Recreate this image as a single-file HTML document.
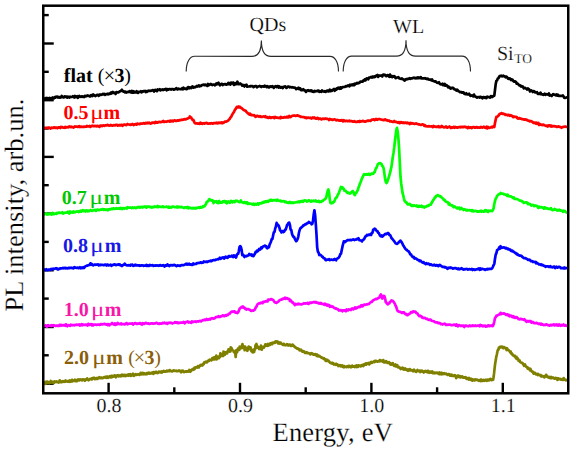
<!DOCTYPE html>
<html><head><meta charset="utf-8"><style>
html,body{margin:0;padding:0;background:#fff;}
body{width:574px;height:453px;overflow:hidden;}
svg{display:block;}
text{font-family:"Liberation Serif",serif;text-rendering:geometricPrecision;}
</style></head><body>
<svg width="574" height="453" viewBox="0 0 574 453">
<g stroke="#000" stroke-width="2.4">
<line x1="108.6" y1="393.3" x2="108.6" y2="382.8"/>
<line x1="174.3" y1="393.3" x2="174.3" y2="387.3"/>
<line x1="240.0" y1="393.3" x2="240.0" y2="382.8"/>
<line x1="305.7" y1="393.3" x2="305.7" y2="387.3"/>
<line x1="371.4" y1="393.3" x2="371.4" y2="382.8"/>
<line x1="437.1" y1="393.3" x2="437.1" y2="387.3"/>
<line x1="502.8" y1="393.3" x2="502.8" y2="382.8"/>
<line x1="43.25" y1="43.5" x2="53.75" y2="43.5"/>
<line x1="43.25" y1="100.2" x2="53.75" y2="100.2"/>
<line x1="43.25" y1="156.9" x2="53.75" y2="156.9"/>
<line x1="43.25" y1="213.6" x2="53.75" y2="213.6"/>
<line x1="43.25" y1="270.3" x2="53.75" y2="270.3"/>
<line x1="43.25" y1="327.0" x2="53.75" y2="327.0"/>
<line x1="43.25" y1="383.7" x2="53.75" y2="383.7"/>
<line x1="43.25" y1="15.1" x2="48.75" y2="15.1"/>
<line x1="43.25" y1="71.8" x2="48.75" y2="71.8"/>
<line x1="43.25" y1="128.5" x2="48.75" y2="128.5"/>
<line x1="43.25" y1="185.2" x2="48.75" y2="185.2"/>
<line x1="43.25" y1="241.9" x2="48.75" y2="241.9"/>
<line x1="43.25" y1="298.6" x2="48.75" y2="298.6"/>
<line x1="43.25" y1="355.3" x2="48.75" y2="355.3"/>
</g>
<g fill="none" stroke-width="2.7" stroke-linejoin="round" stroke-linecap="round">
<path d="M43.5,98.8 L44.2,98.9 L44.9,98.5 L45.6,98.1 L46.3,98.3 L47.0,97.9 L47.7,98.5 L48.4,99.1 L49.1,98.0 L49.8,97.9 L50.5,98.5 L51.2,98.3 L51.9,98.1 L52.6,97.5 L53.3,98.0 L54.0,98.3 L54.7,97.1 L55.4,97.6 L56.1,96.7 L56.8,97.0 L57.5,96.7 L58.2,97.5 L58.9,96.9 L59.6,97.7 L60.3,97.6 L61.0,97.3 L61.7,96.0 L62.4,97.1 L63.1,97.3 L63.8,97.3 L64.5,96.4 L65.2,96.9 L65.9,96.6 L66.6,96.7 L67.3,97.7 L68.0,96.6 L68.7,97.0 L69.4,97.5 L70.1,96.7 L70.8,96.9 L71.5,97.0 L72.2,96.9 L72.9,96.2 L73.6,96.9 L74.3,97.6 L75.0,95.9 L75.7,97.2 L76.4,96.8 L77.1,96.3 L77.8,97.8 L78.5,97.0 L79.2,95.9 L79.9,96.6 L80.6,96.8 L81.3,96.4 L82.0,96.8 L82.7,96.4 L83.4,96.7 L84.1,97.1 L84.8,95.9 L85.5,96.3 L86.2,95.9 L86.9,96.2 L87.6,95.4 L88.3,95.7 L89.0,95.9 L89.7,96.4 L90.4,96.5 L91.1,95.1 L91.8,95.3 L92.5,96.0 L93.2,94.5 L93.9,95.3 L94.6,95.4 L95.3,96.1 L96.0,95.7 L96.7,95.1 L97.4,94.9 L98.1,94.9 L98.8,95.8 L99.5,94.7 L100.2,94.6 L100.9,94.9 L101.6,94.6 L102.3,94.4 L103.0,93.8 L103.7,94.4 L104.4,94.0 L105.1,94.8 L105.8,94.4 L106.5,94.0 L107.2,94.3 L107.9,93.6 L108.6,94.3 L109.3,93.6 L110.0,93.8 L110.7,92.7 L111.4,93.5 L112.1,92.3 L112.8,92.0 L113.5,92.9 L114.2,92.5 L114.9,93.0 L115.6,94.0 L116.3,92.2 L117.0,92.2 L117.7,92.5 L118.4,92.4 L119.1,91.9 L119.8,91.4 L120.5,91.2 L121.2,90.6 L121.9,89.8 L122.6,90.9 L123.3,91.7 L124.0,91.4 L124.7,92.2 L125.4,91.6 L126.1,92.6 L126.8,92.2 L127.5,92.2 L128.2,91.8 L128.9,92.1 L129.6,91.1 L130.3,91.6 L131.0,92.4 L131.7,91.0 L132.4,92.7 L133.1,91.2 L133.8,92.6 L134.5,91.7 L135.2,92.5 L135.9,92.2 L136.6,91.2 L137.3,92.7 L138.0,92.8 L138.7,91.9 L139.4,91.8 L140.1,91.8 L140.8,91.3 L141.5,92.4 L142.2,91.4 L142.9,91.6 L143.6,91.1 L144.3,91.2 L145.0,90.8 L145.7,92.1 L146.4,91.2 L147.1,91.8 L147.8,91.2 L148.5,90.7 L149.2,90.9 L149.9,90.7 L150.6,90.9 L151.3,90.6 L152.0,90.6 L152.7,90.0 L153.4,90.2 L154.1,91.5 L154.8,90.1 L155.5,89.9 L156.2,90.6 L156.9,91.1 L157.6,89.4 L158.3,90.1 L159.0,89.8 L159.7,89.1 L160.4,90.4 L161.1,89.9 L161.8,89.9 L162.5,89.4 L163.2,90.0 L163.9,89.4 L164.6,89.6 L165.3,89.0 L166.0,88.9 L166.7,90.3 L167.4,89.2 L168.1,89.6 L168.8,89.4 L169.5,89.1 L170.2,89.0 L170.9,89.6 L171.6,89.1 L172.3,89.1 L173.0,89.2 L173.7,89.7 L174.4,89.4 L175.1,89.2 L175.8,88.7 L176.5,88.2 L177.2,89.4 L177.9,89.4 L178.6,88.7 L179.3,89.0 L180.0,89.1 L180.7,89.1 L181.4,89.1 L182.1,88.3 L182.8,89.3 L183.5,87.7 L184.2,88.8 L184.9,88.6 L185.6,88.7 L186.3,89.2 L187.0,88.9 L187.7,87.4 L188.4,87.1 L189.1,88.4 L189.8,87.3 L190.5,87.8 L191.2,88.2 L191.9,86.7 L192.6,86.4 L193.3,87.6 L194.0,87.4 L194.7,87.1 L195.4,87.1 L196.1,86.5 L196.8,86.0 L197.5,86.5 L198.2,85.9 L198.9,85.4 L199.6,86.4 L200.3,85.9 L201.0,86.0 L201.7,85.1 L202.4,85.1 L203.1,84.8 L203.8,84.7 L204.5,85.2 L205.2,84.6 L205.9,85.1 L206.6,85.0 L207.3,85.9 L208.0,84.0 L208.7,85.3 L209.4,84.7 L210.1,84.7 L210.8,83.9 L211.5,84.5 L212.2,85.1 L212.9,84.7 L213.6,84.7 L214.3,84.5 L215.0,85.3 L215.7,84.7 L216.4,83.4 L217.1,84.3 L217.8,83.5 L218.5,82.8 L219.2,84.3 L219.9,85.3 L220.6,84.6 L221.3,83.8 L222.0,83.9 L222.7,85.0 L223.4,84.4 L224.1,84.3 L224.8,84.2 L225.5,84.1 L226.2,84.7 L226.9,84.4 L227.6,84.1 L228.3,83.0 L229.0,84.2 L229.7,83.2 L230.4,84.5 L231.1,82.6 L231.8,83.5 L232.5,83.5 L233.2,82.5 L233.9,84.9 L234.6,84.7 L235.3,83.2 L236.0,84.2 L236.7,84.0 L237.4,81.7 L238.1,84.1 L238.8,83.9 L239.5,84.2 L240.2,83.4 L240.9,84.2 L241.6,84.5 L242.3,85.7 L243.0,85.2 L243.7,85.1 L244.4,86.5 L245.1,85.1 L245.8,85.4 L246.5,84.7 L247.2,86.7 L247.9,86.5 L248.6,86.5 L249.3,86.4 L250.0,86.2 L250.7,86.3 L251.4,86.0 L252.1,86.1 L252.8,86.3 L253.5,87.1 L254.2,86.6 L254.9,86.3 L255.6,86.0 L256.3,86.0 L257.0,87.3 L257.7,86.7 L258.4,86.5 L259.1,86.3 L259.8,85.9 L260.5,86.5 L261.2,87.0 L261.9,86.3 L262.6,86.4 L263.3,86.4 L264.0,86.6 L264.7,85.7 L265.4,86.5 L266.1,86.2 L266.8,87.1 L267.5,86.2 L268.2,87.0 L268.9,87.5 L269.6,86.5 L270.3,86.4 L271.0,86.8 L271.7,86.7 L272.4,86.2 L273.1,87.0 L273.8,87.9 L274.5,86.6 L275.2,86.7 L275.9,86.2 L276.6,87.0 L277.3,86.2 L278.0,86.2 L278.7,87.6 L279.4,86.4 L280.1,87.5 L280.8,87.7 L281.5,87.1 L282.2,87.2 L282.9,88.0 L283.6,86.9 L284.3,86.7 L285.0,86.3 L285.7,87.0 L286.4,87.9 L287.1,87.6 L287.8,86.6 L288.5,86.6 L289.2,86.8 L289.9,87.3 L290.6,87.1 L291.3,87.3 L292.0,87.4 L292.7,87.2 L293.4,87.5 L294.1,87.7 L294.8,87.7 L295.5,88.2 L296.2,89.2 L296.9,88.7 L297.6,88.6 L298.3,87.8 L299.0,89.2 L299.7,88.1 L300.4,88.6 L301.1,90.1 L301.8,90.2 L302.5,89.9 L303.2,89.2 L303.9,90.1 L304.6,90.1 L305.3,91.0 L306.0,91.9 L306.7,90.9 L307.4,90.4 L308.1,90.2 L308.8,90.9 L309.5,90.9 L310.2,90.4 L310.9,91.1 L311.6,90.4 L312.3,91.7 L313.0,91.7 L313.7,91.8 L314.4,90.9 L315.1,91.5 L315.8,91.2 L316.5,91.1 L317.2,91.1 L317.9,90.6 L318.6,90.5 L319.3,91.8 L320.0,91.3 L320.7,91.5 L321.4,91.9 L322.1,90.4 L322.8,91.0 L323.5,91.5 L324.2,91.6 L324.9,91.1 L325.6,91.9 L326.3,91.4 L327.0,90.5 L327.7,90.5 L328.4,91.4 L329.1,91.1 L329.8,89.6 L330.5,91.2 L331.2,90.7 L331.9,90.9 L332.6,89.8 L333.3,89.7 L334.0,89.0 L334.7,90.8 L335.4,89.2 L336.1,89.9 L336.8,88.5 L337.5,88.8 L338.2,87.6 L338.9,88.1 L339.6,88.7 L340.3,87.3 L341.0,88.5 L341.7,87.9 L342.4,87.0 L343.1,87.1 L343.8,87.0 L344.5,87.0 L345.2,86.6 L345.9,86.2 L346.6,86.4 L347.3,85.8 L348.0,85.4 L348.7,85.9 L349.4,86.3 L350.1,84.7 L350.8,85.4 L351.5,84.8 L352.2,84.4 L352.9,85.2 L353.6,84.2 L354.3,85.1 L355.0,83.6 L355.7,84.0 L356.4,83.4 L357.1,82.9 L357.8,83.4 L358.5,82.8 L359.2,82.9 L359.9,82.3 L360.6,81.5 L361.3,81.7 L362.0,81.5 L362.7,81.7 L363.4,80.4 L364.1,80.6 L364.8,79.3 L365.5,80.3 L366.2,79.0 L366.9,78.3 L367.6,78.9 L368.3,79.3 L369.0,77.5 L369.7,77.5 L370.4,77.4 L371.1,77.0 L371.8,77.6 L372.5,76.7 L373.2,76.6 L373.9,77.2 L374.6,76.3 L375.3,76.8 L376.0,75.8 L376.7,75.5 L377.4,75.0 L378.1,76.9 L378.8,75.6 L379.5,75.8 L380.2,75.6 L380.9,75.6 L381.6,75.5 L382.3,76.5 L383.0,74.8 L383.7,74.6 L384.4,74.9 L385.1,74.8 L385.8,76.0 L386.5,76.1 L387.2,75.2 L387.9,75.0 L388.6,75.7 L389.3,76.8 L390.0,74.6 L390.7,76.6 L391.4,75.9 L392.1,77.2 L392.8,76.1 L393.5,76.7 L394.2,76.2 L394.9,76.6 L395.6,78.1 L396.3,78.0 L397.0,77.5 L397.7,77.5 L398.4,77.1 L399.1,78.2 L399.8,78.5 L400.5,78.7 L401.2,78.8 L401.9,78.4 L402.6,79.2 L403.3,79.3 L404.0,80.2 L404.7,80.6 L405.4,79.5 L406.1,79.1 L406.8,79.4 L407.5,79.0 L408.2,78.7 L408.9,78.9 L409.6,78.2 L410.3,78.9 L411.0,78.3 L411.7,78.5 L412.4,78.2 L413.1,77.9 L413.8,77.7 L414.5,78.1 L415.2,77.9 L415.9,78.3 L416.6,78.2 L417.3,77.5 L418.0,78.2 L418.7,77.5 L419.4,77.9 L420.1,78.1 L420.8,77.1 L421.5,78.4 L422.2,78.5 L422.9,78.4 L423.6,78.3 L424.3,78.5 L425.0,78.2 L425.7,78.7 L426.4,78.7 L427.1,79.2 L427.8,78.6 L428.5,79.5 L429.2,79.6 L429.9,79.6 L430.6,79.7 L431.3,80.4 L432.0,79.4 L432.7,80.8 L433.4,81.0 L434.1,81.3 L434.8,81.6 L435.5,81.3 L436.2,81.8 L436.9,82.6 L437.6,82.8 L438.3,82.9 L439.0,82.3 L439.7,83.7 L440.4,84.3 L441.1,84.5 L441.8,84.3 L442.5,83.6 L443.2,85.2 L443.9,84.9 L444.6,83.8 L445.3,85.7 L446.0,84.9 L446.7,85.3 L447.4,86.0 L448.1,87.3 L448.8,86.6 L449.5,87.3 L450.2,88.4 L450.9,88.6 L451.6,87.9 L452.3,88.1 L453.0,87.8 L453.7,88.4 L454.4,89.3 L455.1,89.6 L455.8,89.7 L456.5,90.5 L457.2,89.8 L457.9,90.5 L458.6,91.3 L459.3,91.5 L460.0,92.1 L460.7,92.1 L461.4,92.0 L462.1,92.7 L462.8,92.3 L463.5,92.3 L464.2,93.8 L464.9,93.7 L465.6,94.2 L466.3,93.3 L467.0,94.3 L467.7,94.3 L468.4,94.4 L469.1,93.8 L469.8,95.0 L470.5,95.8 L471.2,95.7 L471.9,95.3 L472.6,95.8 L473.3,96.4 L474.0,94.6 L474.7,96.2 L475.4,96.7 L476.1,96.9 L476.8,97.6 L477.5,97.4 L478.2,97.0 L478.9,97.1 L479.6,97.5 L480.3,96.8 L481.0,97.1 L481.7,97.7 L482.4,98.3 L483.1,97.1 L483.8,97.2 L484.5,97.3 L485.2,97.9 L485.9,97.2 L486.6,98.0 L487.3,96.6 L488.0,97.0 L488.7,97.0 L489.4,97.5 L490.1,97.6 L490.8,96.1 L491.5,96.4 L492.2,97.0 L492.9,96.4 L493.6,95.9 L494.3,95.7 L495.0,89.9 L495.7,84.1 L496.4,80.8 L497.1,80.4 L497.8,78.5 L498.5,78.3 L499.2,76.5 L499.9,75.9 L500.6,76.2 L501.3,75.6 L502.0,76.4 L502.7,76.2 L503.4,75.7 L504.1,76.4 L504.8,76.3 L505.5,77.2 L506.2,76.6 L506.9,76.9 L507.6,78.0 L508.3,78.8 L509.0,79.0 L509.7,78.3 L510.4,78.8 L511.1,80.0 L511.8,79.6 L512.5,79.7 L513.2,80.8 L513.9,81.6 L514.6,81.4 L515.3,81.4 L516.0,82.0 L516.7,83.6 L517.4,83.3 L518.1,84.1 L518.8,84.8 L519.5,85.5 L520.2,85.4 L520.9,86.3 L521.6,86.0 L522.3,86.7 L523.0,86.7 L523.7,88.3 L524.4,88.0 L525.1,87.9 L525.8,88.4 L526.5,88.7 L527.2,89.5 L527.9,88.4 L528.6,89.0 L529.3,89.6 L530.0,91.4 L530.7,90.7 L531.4,90.4 L532.1,91.0 L532.8,92.0 L533.5,91.0 L534.2,91.2 L534.9,92.3 L535.6,92.2 L536.3,92.5 L537.0,92.2 L537.7,93.8 L538.4,93.9 L539.1,93.6 L539.8,93.9 L540.5,92.6 L541.2,94.3 L541.9,94.0 L542.6,94.5 L543.3,94.8 L544.0,94.3 L544.7,93.6 L545.4,94.8 L546.1,94.2 L546.8,94.5 L547.5,94.4 L548.2,94.6 L548.9,93.5 L549.6,95.5 L550.3,95.0 L551.0,95.5 L551.7,96.0 L552.4,95.0 L553.1,94.1 L553.8,94.6 L554.5,94.5 L555.2,95.0 L555.9,95.4 L556.6,94.3 L557.3,95.7 L558.0,94.8 L558.7,95.9 L559.4,95.8 L560.1,95.8 L560.8,96.0 L561.5,95.9 L562.2,95.9 L562.9,95.5 L563.6,96.5 L564.3,97.7 L565.0,97.9 L565.7,97.7 L566.4,97.5" stroke="#000000"/>
<path d="M43.5,127.8 L44.2,128.5 L44.9,127.9 L45.6,127.9 L46.3,127.8 L47.0,127.9 L47.7,127.7 L48.4,127.8 L49.1,127.5 L49.8,127.7 L50.5,128.6 L51.2,127.8 L51.9,127.7 L52.6,127.9 L53.3,128.0 L54.0,127.3 L54.7,127.6 L55.4,128.0 L56.1,127.7 L56.8,127.6 L57.5,128.1 L58.2,127.3 L58.9,127.6 L59.6,127.3 L60.3,128.0 L61.0,126.8 L61.7,127.2 L62.4,127.2 L63.1,127.6 L63.8,127.6 L64.5,127.8 L65.2,126.8 L65.9,127.6 L66.6,127.2 L67.3,127.0 L68.0,127.4 L68.7,126.9 L69.4,126.4 L70.1,127.0 L70.8,126.6 L71.5,126.9 L72.2,127.2 L72.9,127.2 L73.6,127.6 L74.3,126.9 L75.0,126.4 L75.7,126.7 L76.4,126.6 L77.1,126.5 L77.8,127.0 L78.5,126.6 L79.2,126.1 L79.9,127.0 L80.6,126.7 L81.3,126.8 L82.0,126.7 L82.7,126.9 L83.4,126.7 L84.1,127.0 L84.8,126.7 L85.5,126.7 L86.2,126.7 L86.9,126.0 L87.6,126.4 L88.3,126.4 L89.0,126.5 L89.7,125.9 L90.4,126.9 L91.1,126.4 L91.8,125.9 L92.5,125.7 L93.2,126.2 L93.9,126.2 L94.6,125.9 L95.3,126.2 L96.0,125.9 L96.7,126.3 L97.4,125.8 L98.1,126.0 L98.8,126.4 L99.5,126.9 L100.2,125.6 L100.9,125.8 L101.6,125.6 L102.3,126.1 L103.0,125.4 L103.7,125.6 L104.4,125.8 L105.1,125.4 L105.8,125.4 L106.5,125.5 L107.2,124.9 L107.9,125.1 L108.6,125.4 L109.3,125.6 L110.0,125.5 L110.7,124.9 L111.4,125.3 L112.1,125.7 L112.8,125.6 L113.5,125.3 L114.2,125.0 L114.9,125.5 L115.6,125.1 L116.3,124.8 L117.0,124.9 L117.7,125.7 L118.4,125.2 L119.1,125.5 L119.8,124.9 L120.5,125.3 L121.2,124.8 L121.9,124.9 L122.6,125.8 L123.3,125.1 L124.0,124.6 L124.7,124.7 L125.4,124.8 L126.1,125.1 L126.8,124.5 L127.5,124.0 L128.2,124.5 L128.9,124.5 L129.6,124.5 L130.3,124.9 L131.0,124.5 L131.7,124.6 L132.4,123.9 L133.1,124.6 L133.8,125.0 L134.5,124.4 L135.2,124.2 L135.9,124.1 L136.6,124.6 L137.3,123.6 L138.0,123.9 L138.7,124.0 L139.4,124.1 L140.1,123.6 L140.8,123.8 L141.5,123.5 L142.2,123.6 L142.9,123.5 L143.6,123.1 L144.3,123.4 L145.0,123.6 L145.7,122.9 L146.4,123.1 L147.1,123.4 L147.8,122.7 L148.5,123.1 L149.2,122.6 L149.9,123.3 L150.6,123.6 L151.3,123.5 L152.0,122.6 L152.7,122.9 L153.4,122.6 L154.1,122.6 L154.8,123.0 L155.5,121.9 L156.2,122.7 L156.9,122.2 L157.6,122.7 L158.3,122.2 L159.0,121.8 L159.7,122.1 L160.4,122.2 L161.1,121.9 L161.8,122.0 L162.5,121.5 L163.2,120.9 L163.9,121.9 L164.6,121.8 L165.3,121.5 L166.0,121.5 L166.7,121.8 L167.4,121.2 L168.1,121.0 L168.8,121.2 L169.5,121.6 L170.2,120.6 L170.9,121.5 L171.6,120.8 L172.3,120.6 L173.0,121.4 L173.7,120.8 L174.4,120.3 L175.1,120.6 L175.8,121.0 L176.5,121.0 L177.2,120.4 L177.9,120.6 L178.6,120.6 L179.3,120.0 L180.0,120.3 L180.7,120.1 L181.4,119.8 L182.1,119.7 L182.8,119.8 L183.5,119.6 L184.2,119.3 L184.9,119.2 L185.6,119.5 L186.3,118.9 L187.0,118.8 L187.7,118.6 L188.4,118.0 L189.1,118.0 L189.8,116.5 L190.5,117.3 L191.2,117.5 L191.9,119.0 L192.6,119.9 L193.3,119.8 L194.0,121.4 L194.7,123.0 L195.4,123.5 L196.1,123.5 L196.8,123.3 L197.5,123.6 L198.2,123.7 L198.9,123.5 L199.6,123.9 L200.3,122.7 L201.0,123.7 L201.7,123.1 L202.4,123.8 L203.1,123.4 L203.8,123.2 L204.5,123.6 L205.2,123.1 L205.9,123.1 L206.6,122.9 L207.3,123.4 L208.0,123.6 L208.7,123.7 L209.4,123.3 L210.1,123.7 L210.8,123.3 L211.5,123.2 L212.2,123.4 L212.9,123.6 L213.6,123.1 L214.3,123.1 L215.0,123.1 L215.7,123.1 L216.4,122.7 L217.1,123.4 L217.8,122.8 L218.5,123.1 L219.2,122.6 L219.9,123.0 L220.6,122.9 L221.3,122.5 L222.0,123.2 L222.7,122.5 L223.4,122.9 L224.1,122.4 L224.8,121.6 L225.5,121.5 L226.2,121.6 L226.9,121.2 L227.6,120.9 L228.3,120.5 L229.0,119.4 L229.7,119.1 L230.4,117.4 L231.1,117.1 L231.8,115.4 L232.5,114.1 L233.2,113.0 L233.9,112.1 L234.6,110.5 L235.3,109.3 L236.0,108.5 L236.7,107.1 L237.4,106.8 L238.1,107.4 L238.8,106.5 L239.5,107.3 L240.2,106.9 L240.9,107.9 L241.6,108.1 L242.3,108.7 L243.0,109.4 L243.7,110.2 L244.4,110.2 L245.1,110.7 L245.8,110.9 L246.5,112.1 L247.2,112.4 L247.9,113.4 L248.6,113.6 L249.3,114.6 L250.0,113.6 L250.7,114.5 L251.4,115.2 L252.1,115.0 L252.8,115.1 L253.5,115.4 L254.2,115.2 L254.9,115.9 L255.6,116.8 L256.3,116.5 L257.0,115.8 L257.7,115.9 L258.4,116.2 L259.1,116.8 L259.8,116.2 L260.5,116.3 L261.2,117.0 L261.9,117.0 L262.6,116.7 L263.3,116.5 L264.0,116.4 L264.7,116.8 L265.4,116.3 L266.1,117.4 L266.8,117.0 L267.5,117.4 L268.2,118.0 L268.9,117.8 L269.6,117.0 L270.3,117.8 L271.0,117.9 L271.7,117.3 L272.4,117.3 L273.1,117.6 L273.8,117.1 L274.5,118.2 L275.2,116.9 L275.9,117.3 L276.6,117.7 L277.3,117.7 L278.0,117.8 L278.7,117.9 L279.4,117.7 L280.1,118.2 L280.8,117.0 L281.5,117.8 L282.2,117.5 L282.9,117.7 L283.6,117.6 L284.3,117.1 L285.0,117.1 L285.7,117.5 L286.4,117.2 L287.1,116.7 L287.8,117.5 L288.5,117.5 L289.2,116.0 L289.9,116.5 L290.6,117.1 L291.3,116.4 L292.0,116.1 L292.7,115.8 L293.4,115.6 L294.1,115.7 L294.8,115.5 L295.5,116.0 L296.2,115.6 L296.9,115.6 L297.6,115.4 L298.3,115.9 L299.0,115.8 L299.7,116.2 L300.4,116.8 L301.1,116.7 L301.8,116.9 L302.5,117.0 L303.2,117.1 L303.9,117.2 L304.6,117.3 L305.3,117.8 L306.0,117.3 L306.7,118.2 L307.4,117.8 L308.1,117.6 L308.8,117.8 L309.5,117.8 L310.2,118.1 L310.9,117.8 L311.6,118.5 L312.3,117.9 L313.0,117.4 L313.7,118.0 L314.4,117.5 L315.1,118.3 L315.8,118.7 L316.5,118.6 L317.2,117.9 L317.9,118.1 L318.6,119.1 L319.3,118.6 L320.0,118.5 L320.7,118.9 L321.4,119.4 L322.1,119.1 L322.8,118.7 L323.5,118.8 L324.2,119.0 L324.9,118.6 L325.6,118.5 L326.3,118.9 L327.0,118.7 L327.7,119.0 L328.4,119.2 L329.1,120.0 L329.8,119.0 L330.5,119.3 L331.2,119.4 L331.9,119.7 L332.6,120.0 L333.3,119.6 L334.0,119.5 L334.7,119.3 L335.4,119.7 L336.1,120.3 L336.8,120.2 L337.5,119.9 L338.2,120.2 L338.9,120.4 L339.6,120.7 L340.3,120.4 L341.0,120.6 L341.7,120.1 L342.4,120.4 L343.1,121.4 L343.8,120.2 L344.5,120.9 L345.2,121.1 L345.9,120.9 L346.6,120.8 L347.3,121.1 L348.0,121.2 L348.7,121.2 L349.4,120.6 L350.1,121.2 L350.8,121.0 L351.5,121.1 L352.2,121.4 L352.9,121.6 L353.6,121.7 L354.3,121.2 L355.0,121.7 L355.7,121.8 L356.4,121.8 L357.1,121.9 L357.8,121.4 L358.5,121.4 L359.2,121.8 L359.9,121.0 L360.6,121.6 L361.3,121.3 L362.0,121.4 L362.7,120.9 L363.4,121.1 L364.1,121.4 L364.8,121.6 L365.5,121.6 L366.2,121.1 L366.9,121.0 L367.6,120.6 L368.3,120.9 L369.0,120.6 L369.7,120.8 L370.4,121.0 L371.1,120.3 L371.8,119.6 L372.5,119.7 L373.2,119.4 L373.9,119.3 L374.6,120.1 L375.3,119.6 L376.0,118.9 L376.7,119.6 L377.4,119.8 L378.1,119.1 L378.8,119.0 L379.5,119.1 L380.2,119.3 L380.9,119.5 L381.6,119.7 L382.3,119.8 L383.0,119.9 L383.7,120.1 L384.4,119.9 L385.1,119.3 L385.8,120.0 L386.5,120.3 L387.2,120.2 L387.9,120.8 L388.6,120.6 L389.3,120.5 L390.0,121.5 L390.7,121.4 L391.4,121.4 L392.1,121.8 L392.8,122.0 L393.5,121.9 L394.2,121.0 L394.9,121.8 L395.6,121.9 L396.3,121.8 L397.0,122.3 L397.7,122.7 L398.4,122.2 L399.1,122.0 L399.8,123.2 L400.5,122.3 L401.2,122.1 L401.9,122.7 L402.6,122.8 L403.3,122.4 L404.0,123.0 L404.7,122.6 L405.4,122.5 L406.1,122.9 L406.8,123.2 L407.5,122.7 L408.2,123.1 L408.9,123.0 L409.6,124.1 L410.3,122.9 L411.0,123.7 L411.7,123.2 L412.4,123.3 L413.1,123.6 L413.8,123.7 L414.5,123.9 L415.2,123.7 L415.9,123.4 L416.6,123.5 L417.3,124.0 L418.0,124.1 L418.7,124.5 L419.4,124.3 L420.1,124.7 L420.8,125.0 L421.5,124.7 L422.2,124.3 L422.9,124.6 L423.6,124.6 L424.3,125.9 L425.0,125.2 L425.7,126.1 L426.4,126.0 L427.1,126.5 L427.8,126.4 L428.5,126.2 L429.2,126.2 L429.9,126.4 L430.6,126.5 L431.3,126.3 L432.0,126.5 L432.7,127.1 L433.4,126.0 L434.1,126.7 L434.8,126.3 L435.5,126.7 L436.2,127.0 L436.9,126.7 L437.6,127.0 L438.3,126.2 L439.0,127.2 L439.7,126.6 L440.4,127.1 L441.1,126.9 L441.8,126.0 L442.5,126.6 L443.2,127.0 L443.9,127.5 L444.6,127.1 L445.3,127.1 L446.0,126.5 L446.7,127.5 L447.4,127.7 L448.1,127.1 L448.8,127.0 L449.5,126.5 L450.2,127.4 L450.9,128.1 L451.6,127.4 L452.3,127.6 L453.0,127.4 L453.7,126.9 L454.4,127.7 L455.1,126.8 L455.8,127.2 L456.5,127.4 L457.2,127.6 L457.9,127.4 L458.6,127.4 L459.3,127.0 L460.0,126.9 L460.7,127.3 L461.4,127.1 L462.1,126.9 L462.8,126.9 L463.5,127.2 L464.2,126.7 L464.9,126.9 L465.6,126.8 L466.3,127.5 L467.0,127.6 L467.7,128.1 L468.4,126.9 L469.1,127.2 L469.8,127.8 L470.5,127.4 L471.2,127.3 L471.9,128.1 L472.6,127.3 L473.3,127.1 L474.0,127.0 L474.7,127.6 L475.4,127.6 L476.1,127.0 L476.8,127.1 L477.5,127.7 L478.2,127.7 L478.9,127.3 L479.6,127.7 L480.3,127.7 L481.0,126.9 L481.7,127.4 L482.4,127.6 L483.1,127.3 L483.8,126.7 L484.5,127.4 L485.2,127.8 L485.9,128.0 L486.6,126.7 L487.3,128.4 L488.0,127.0 L488.7,127.7 L489.4,127.8 L490.1,127.7 L490.8,127.3 L491.5,126.8 L492.2,127.4 L492.9,126.8 L493.6,126.1 L494.3,127.0 L495.0,122.9 L495.7,119.6 L496.4,116.9 L497.1,116.9 L497.8,116.2 L498.5,115.6 L499.2,114.5 L499.9,113.8 L500.6,113.9 L501.3,113.1 L502.0,113.3 L502.7,114.0 L503.4,113.7 L504.1,114.1 L504.8,114.2 L505.5,115.0 L506.2,115.0 L506.9,114.7 L507.6,115.3 L508.3,114.8 L509.0,115.1 L509.7,115.8 L510.4,115.2 L511.1,115.8 L511.8,115.6 L512.5,116.3 L513.2,117.1 L513.9,116.5 L514.6,117.0 L515.3,116.8 L516.0,116.9 L516.7,117.0 L517.4,118.2 L518.1,118.7 L518.8,118.2 L519.5,118.0 L520.2,118.7 L520.9,118.5 L521.6,119.1 L522.3,119.1 L523.0,119.3 L523.7,119.6 L524.4,119.4 L525.1,119.7 L525.8,119.4 L526.5,120.1 L527.2,119.9 L527.9,120.6 L528.6,120.5 L529.3,121.1 L530.0,121.4 L530.7,121.0 L531.4,121.4 L532.1,121.5 L532.8,122.3 L533.5,122.9 L534.2,122.8 L534.9,122.6 L535.6,123.5 L536.3,122.6 L537.0,123.9 L537.7,123.4 L538.4,122.9 L539.1,125.0 L539.8,124.9 L540.5,124.2 L541.2,124.8 L541.9,124.8 L542.6,125.1 L543.3,124.6 L544.0,125.0 L544.7,125.5 L545.4,125.5 L546.1,126.0 L546.8,125.6 L547.5,126.5 L548.2,125.5 L548.9,126.0 L549.6,125.3 L550.3,125.6 L551.0,126.6 L551.7,125.8 L552.4,126.4 L553.1,126.3 L553.8,126.0 L554.5,126.3 L555.2,126.3 L555.9,126.4 L556.6,126.9 L557.3,126.9 L558.0,126.5 L558.7,126.4 L559.4,126.9 L560.1,126.8 L560.8,127.2 L561.5,127.8 L562.2,127.2 L562.9,126.9 L563.6,126.9 L564.3,126.7 L565.0,126.7 L565.7,126.6 L566.4,126.9" stroke="#ff0000"/>
<path d="M43.5,213.8 L44.2,214.3 L44.9,213.8 L45.6,213.8 L46.3,213.4 L47.0,214.5 L47.7,214.0 L48.4,214.4 L49.1,214.0 L49.8,214.2 L50.5,213.5 L51.2,213.8 L51.9,214.6 L52.6,213.0 L53.3,213.9 L54.0,214.1 L54.7,213.5 L55.4,213.6 L56.1,213.8 L56.8,212.9 L57.5,213.3 L58.2,212.7 L58.9,212.8 L59.6,212.7 L60.3,212.9 L61.0,213.0 L61.7,213.0 L62.4,212.2 L63.1,213.6 L63.8,213.2 L64.5,213.0 L65.2,212.5 L65.9,212.5 L66.6,212.7 L67.3,212.6 L68.0,211.7 L68.7,212.7 L69.4,213.5 L70.1,211.5 L70.8,212.6 L71.5,212.3 L72.2,212.0 L72.9,212.6 L73.6,211.5 L74.3,211.9 L75.0,212.4 L75.7,211.7 L76.4,211.5 L77.1,211.7 L77.8,211.4 L78.5,212.1 L79.2,211.1 L79.9,211.7 L80.6,210.8 L81.3,211.5 L82.0,211.1 L82.7,210.1 L83.4,211.1 L84.1,210.6 L84.8,210.8 L85.5,211.5 L86.2,210.4 L86.9,210.3 L87.6,211.3 L88.3,210.7 L89.0,211.2 L89.7,210.7 L90.4,210.1 L91.1,210.4 L91.8,210.9 L92.5,210.7 L93.2,210.3 L93.9,210.3 L94.6,210.1 L95.3,209.9 L96.0,210.9 L96.7,210.1 L97.4,209.5 L98.1,209.8 L98.8,210.2 L99.5,210.1 L100.2,209.8 L100.9,209.5 L101.6,209.7 L102.3,209.0 L103.0,209.1 L103.7,209.9 L104.4,209.3 L105.1,209.6 L105.8,209.9 L106.5,209.7 L107.2,209.4 L107.9,210.2 L108.6,209.5 L109.3,209.1 L110.0,209.5 L110.7,209.3 L111.4,208.7 L112.1,209.1 L112.8,208.9 L113.5,208.2 L114.2,208.9 L114.9,208.8 L115.6,208.7 L116.3,208.1 L117.0,208.6 L117.7,208.7 L118.4,208.7 L119.1,208.2 L119.8,208.8 L120.5,208.0 L121.2,208.4 L121.9,209.0 L122.6,208.1 L123.3,208.2 L124.0,208.8 L124.7,208.1 L125.4,208.1 L126.1,208.3 L126.8,208.6 L127.5,207.2 L128.2,207.7 L128.9,207.6 L129.6,207.5 L130.3,207.6 L131.0,207.6 L131.7,208.0 L132.4,207.4 L133.1,207.8 L133.8,207.9 L134.5,207.4 L135.2,207.7 L135.9,208.2 L136.6,207.6 L137.3,207.2 L138.0,207.4 L138.7,206.9 L139.4,207.4 L140.1,207.6 L140.8,206.8 L141.5,207.0 L142.2,207.5 L142.9,206.8 L143.6,207.1 L144.3,206.5 L145.0,206.6 L145.7,206.7 L146.4,207.7 L147.1,206.7 L147.8,206.6 L148.5,206.6 L149.2,206.7 L149.9,207.1 L150.6,206.9 L151.3,207.6 L152.0,206.9 L152.7,207.4 L153.4,206.9 L154.1,207.1 L154.8,206.3 L155.5,206.8 L156.2,206.8 L156.9,206.8 L157.6,206.0 L158.3,207.2 L159.0,206.7 L159.7,206.7 L160.4,206.8 L161.1,206.8 L161.8,207.1 L162.5,206.4 L163.2,206.6 L163.9,207.1 L164.6,207.0 L165.3,206.9 L166.0,206.8 L166.7,206.7 L167.4,207.0 L168.1,207.5 L168.8,206.7 L169.5,207.7 L170.2,207.5 L170.9,207.0 L171.6,207.5 L172.3,206.6 L173.0,206.5 L173.7,206.7 L174.4,207.1 L175.1,207.1 L175.8,207.1 L176.5,207.3 L177.2,206.5 L177.9,207.5 L178.6,206.8 L179.3,207.1 L180.0,207.2 L180.7,207.0 L181.4,206.9 L182.1,207.1 L182.8,207.5 L183.5,207.8 L184.2,207.9 L184.9,207.3 L185.6,207.4 L186.3,207.4 L187.0,207.9 L187.7,207.0 L188.4,208.3 L189.1,207.7 L189.8,207.6 L190.5,208.0 L191.2,208.3 L191.9,208.0 L192.6,208.3 L193.3,207.9 L194.0,208.4 L194.7,208.4 L195.4,207.8 L196.1,208.4 L196.8,207.9 L197.5,207.8 L198.2,207.4 L198.9,207.6 L199.6,207.9 L200.3,207.0 L201.0,207.7 L201.7,207.5 L202.4,207.3 L203.1,206.1 L203.8,206.6 L204.5,206.3 L205.2,205.0 L205.9,204.4 L206.6,202.1 L207.3,202.0 L208.0,200.7 L208.7,200.7 L209.4,199.1 L210.1,200.0 L210.8,199.8 L211.5,200.6 L212.2,200.1 L212.9,200.8 L213.6,203.1 L214.3,201.3 L215.0,201.5 L215.7,201.8 L216.4,201.3 L217.1,202.8 L217.8,203.1 L218.5,201.5 L219.2,200.9 L219.9,202.8 L220.6,202.7 L221.3,202.5 L222.0,202.7 L222.7,201.4 L223.4,201.8 L224.1,201.0 L224.8,201.0 L225.5,202.5 L226.2,201.4 L226.9,203.3 L227.6,201.8 L228.3,201.3 L229.0,202.2 L229.7,202.8 L230.4,202.0 L231.1,200.8 L231.8,201.8 L232.5,202.4 L233.2,201.2 L233.9,201.0 L234.6,202.1 L235.3,201.5 L236.0,200.7 L236.7,201.2 L237.4,200.9 L238.1,201.6 L238.8,201.5 L239.5,202.2 L240.2,201.9 L240.9,200.5 L241.6,201.9 L242.3,202.4 L243.0,202.3 L243.7,202.9 L244.4,202.0 L245.1,202.2 L245.8,203.2 L246.5,202.6 L247.2,202.4 L247.9,203.9 L248.6,203.4 L249.3,203.8 L250.0,203.5 L250.7,203.7 L251.4,203.9 L252.1,204.3 L252.8,204.6 L253.5,203.6 L254.2,204.8 L254.9,204.0 L255.6,203.9 L256.3,204.5 L257.0,204.1 L257.7,203.4 L258.4,204.5 L259.1,203.3 L259.8,203.5 L260.5,203.3 L261.2,203.5 L261.9,202.6 L262.6,202.9 L263.3,202.0 L264.0,202.5 L264.7,201.5 L265.4,201.4 L266.1,202.1 L266.8,201.3 L267.5,201.0 L268.2,201.7 L268.9,200.8 L269.6,200.2 L270.3,200.7 L271.0,199.8 L271.7,200.7 L272.4,200.7 L273.1,200.0 L273.8,200.0 L274.5,200.3 L275.2,200.3 L275.9,200.0 L276.6,200.7 L277.3,199.7 L278.0,200.5 L278.7,200.6 L279.4,200.8 L280.1,201.1 L280.8,200.7 L281.5,201.5 L282.2,201.3 L282.9,201.3 L283.6,201.1 L284.3,201.3 L285.0,202.1 L285.7,201.6 L286.4,202.2 L287.1,202.7 L287.8,202.7 L288.5,203.0 L289.2,202.3 L289.9,202.0 L290.6,202.9 L291.3,202.6 L292.0,202.9 L292.7,202.4 L293.4,202.9 L294.1,202.7 L294.8,202.5 L295.5,202.4 L296.2,202.2 L296.9,202.0 L297.6,201.9 L298.3,202.1 L299.0,201.4 L299.7,202.2 L300.4,201.3 L301.1,201.6 L301.8,201.1 L302.5,200.9 L303.2,201.8 L303.9,200.8 L304.6,200.3 L305.3,200.5 L306.0,200.6 L306.7,201.6 L307.4,200.8 L308.1,201.1 L308.8,200.3 L309.5,200.9 L310.2,201.1 L310.9,201.6 L311.6,200.7 L312.3,201.2 L313.0,201.2 L313.7,200.7 L314.4,201.2 L315.1,201.2 L315.8,200.4 L316.5,201.6 L317.2,201.6 L317.9,201.3 L318.6,200.9 L319.3,202.1 L320.0,201.6 L320.7,201.8 L321.4,201.8 L322.1,200.8 L322.8,201.0 L323.5,200.1 L324.2,199.7 L324.9,199.2 L325.6,198.6 L326.3,197.1 L327.0,193.8 L327.7,190.9 L328.4,189.4 L329.1,192.9 L329.8,199.6 L330.5,203.0 L331.2,203.3 L331.9,203.1 L332.6,203.0 L333.3,202.0 L334.0,201.9 L334.7,200.4 L335.4,198.8 L336.1,197.6 L336.8,197.4 L337.5,195.5 L338.2,194.1 L338.9,192.8 L339.6,190.9 L340.3,189.0 L341.0,187.0 L341.7,188.0 L342.4,187.3 L343.1,188.6 L343.8,188.8 L344.5,190.7 L345.2,190.5 L345.9,191.1 L346.6,192.1 L347.3,192.9 L348.0,192.5 L348.7,193.2 L349.4,193.0 L350.1,193.6 L350.8,193.0 L351.5,192.1 L352.2,191.3 L352.9,191.1 L353.6,192.3 L354.3,194.7 L355.0,195.1 L355.7,193.1 L356.4,192.8 L357.1,191.3 L357.8,190.1 L358.5,187.6 L359.2,186.0 L359.9,183.6 L360.6,182.3 L361.3,180.2 L362.0,178.3 L362.7,177.0 L363.4,175.5 L364.1,174.2 L364.8,174.7 L365.5,174.5 L366.2,174.2 L366.9,174.7 L367.6,174.7 L368.3,173.8 L369.0,173.9 L369.7,174.8 L370.4,174.7 L371.1,173.8 L371.8,173.6 L372.5,173.8 L373.2,173.7 L373.9,172.7 L374.6,172.2 L375.3,170.1 L376.0,168.3 L376.7,167.4 L377.4,165.1 L378.1,164.0 L378.8,163.4 L379.5,163.3 L380.2,163.1 L380.9,163.7 L381.6,164.1 L382.3,166.0 L383.0,166.6 L383.7,168.5 L384.4,173.6 L385.1,178.7 L385.8,182.1 L386.5,183.1 L387.2,182.0 L387.9,179.6 L388.6,177.9 L389.3,175.3 L390.0,173.2 L390.7,169.9 L391.4,167.2 L392.1,162.1 L392.8,157.0 L393.5,153.0 L394.2,147.7 L394.9,141.1 L395.6,135.8 L396.3,130.0 L397.0,127.9 L397.7,131.5 L398.4,138.4 L399.1,148.3 L399.8,162.6 L400.5,176.7 L401.2,183.5 L401.9,188.5 L402.6,193.2 L403.3,195.6 L404.0,198.8 L404.7,201.0 L405.4,201.7 L406.1,202.6 L406.8,202.7 L407.5,204.2 L408.2,204.5 L408.9,204.4 L409.6,203.9 L410.3,204.3 L411.0,205.3 L411.7,205.8 L412.4,205.4 L413.1,205.9 L413.8,205.3 L414.5,205.6 L415.2,205.8 L415.9,206.1 L416.6,205.5 L417.3,206.6 L418.0,206.8 L418.7,205.9 L419.4,205.9 L420.1,206.7 L420.8,206.3 L421.5,205.7 L422.2,207.0 L422.9,206.8 L423.6,206.6 L424.3,207.6 L425.0,206.9 L425.7,206.5 L426.4,206.7 L427.1,205.9 L427.8,205.7 L428.5,205.8 L429.2,205.0 L429.9,204.6 L430.6,204.7 L431.3,203.5 L432.0,202.3 L432.7,201.0 L433.4,199.8 L434.1,199.0 L434.8,197.4 L435.5,197.4 L436.2,195.8 L436.9,195.8 L437.6,195.1 L438.3,195.4 L439.0,195.8 L439.7,196.4 L440.4,196.1 L441.1,197.0 L441.8,197.6 L442.5,198.2 L443.2,198.8 L443.9,200.0 L444.6,199.9 L445.3,201.2 L446.0,201.7 L446.7,201.9 L447.4,202.3 L448.1,202.6 L448.8,204.4 L449.5,203.6 L450.2,205.2 L450.9,205.2 L451.6,205.3 L452.3,205.3 L453.0,206.5 L453.7,207.1 L454.4,206.4 L455.1,206.9 L455.8,207.6 L456.5,207.6 L457.2,208.5 L457.9,207.6 L458.6,208.3 L459.3,207.7 L460.0,209.3 L460.7,208.3 L461.4,207.9 L462.1,208.9 L462.8,209.0 L463.5,210.0 L464.2,209.2 L464.9,209.5 L465.6,209.8 L466.3,210.4 L467.0,209.8 L467.7,210.4 L468.4,210.3 L469.1,210.1 L469.8,210.3 L470.5,210.4 L471.2,210.2 L471.9,211.1 L472.6,210.2 L473.3,211.3 L474.0,211.3 L474.7,211.0 L475.4,210.8 L476.1,211.1 L476.8,211.4 L477.5,211.6 L478.2,211.4 L478.9,211.7 L479.6,211.1 L480.3,211.4 L481.0,210.7 L481.7,211.6 L482.4,211.3 L483.1,211.1 L483.8,211.7 L484.5,211.5 L485.2,210.1 L485.9,211.2 L486.6,210.5 L487.3,211.5 L488.0,212.0 L488.7,210.7 L489.4,210.9 L490.1,210.7 L490.8,210.9 L491.5,210.9 L492.2,211.1 L492.9,209.8 L493.6,208.5 L494.3,204.0 L495.0,200.9 L495.7,198.8 L496.4,197.6 L497.1,195.9 L497.8,195.2 L498.5,194.5 L499.2,194.1 L499.9,194.1 L500.6,192.9 L501.3,193.5 L502.0,193.6 L502.7,193.7 L503.4,193.8 L504.1,194.4 L504.8,194.3 L505.5,194.7 L506.2,194.9 L506.9,195.7 L507.6,194.6 L508.3,196.2 L509.0,196.0 L509.7,196.3 L510.4,196.3 L511.1,196.3 L511.8,197.1 L512.5,197.3 L513.2,198.0 L513.9,197.5 L514.6,199.0 L515.3,198.8 L516.0,198.9 L516.7,199.0 L517.4,199.3 L518.1,199.5 L518.8,200.0 L519.5,200.5 L520.2,200.7 L520.9,200.5 L521.6,201.3 L522.3,201.3 L523.0,202.0 L523.7,202.9 L524.4,202.7 L525.1,202.5 L525.8,202.3 L526.5,202.6 L527.2,202.7 L527.9,204.0 L528.6,203.6 L529.3,204.2 L530.0,204.2 L530.7,204.7 L531.4,205.5 L532.1,204.9 L532.8,205.2 L533.5,205.2 L534.2,206.1 L534.9,205.6 L535.6,205.7 L536.3,205.8 L537.0,206.0 L537.7,206.9 L538.4,207.9 L539.1,206.6 L539.8,207.5 L540.5,207.4 L541.2,207.0 L541.9,207.4 L542.6,207.6 L543.3,207.5 L544.0,208.7 L544.7,207.3 L545.4,208.3 L546.1,208.4 L546.8,208.1 L547.5,208.5 L548.2,208.9 L548.9,208.7 L549.6,208.9 L550.3,209.2 L551.0,208.2 L551.7,209.7 L552.4,210.1 L553.1,209.7 L553.8,209.9 L554.5,209.0 L555.2,209.7 L555.9,209.5 L556.6,209.7 L557.3,210.5 L558.0,209.9 L558.7,210.3 L559.4,209.7 L560.1,210.5 L560.8,210.7 L561.5,210.5 L562.2,210.7 L562.9,211.8 L563.6,210.7 L564.3,210.9 L565.0,211.1 L565.7,212.0 L566.4,212.5" stroke="#00ff00"/>
<path d="M43.5,270.0 L44.2,269.5 L44.9,269.6 L45.6,270.1 L46.3,269.3 L47.0,270.1 L47.7,270.1 L48.4,269.5 L49.1,269.6 L49.8,269.6 L50.5,269.9 L51.2,268.8 L51.9,269.6 L52.6,268.9 L53.3,268.7 L54.0,269.0 L54.7,268.8 L55.4,268.5 L56.1,268.2 L56.8,268.4 L57.5,269.3 L58.2,269.4 L58.9,268.9 L59.6,269.0 L60.3,268.3 L61.0,268.4 L61.7,268.5 L62.4,268.0 L63.1,267.9 L63.8,268.3 L64.5,268.1 L65.2,267.8 L65.9,268.3 L66.6,268.0 L67.3,268.5 L68.0,268.1 L68.7,267.9 L69.4,268.1 L70.1,267.9 L70.8,267.7 L71.5,267.8 L72.2,268.2 L72.9,268.2 L73.6,268.4 L74.3,267.2 L75.0,267.7 L75.7,267.7 L76.4,267.9 L77.1,267.7 L77.8,267.6 L78.5,268.1 L79.2,267.9 L79.9,267.3 L80.6,268.3 L81.3,268.1 L82.0,267.4 L82.7,268.0 L83.4,267.2 L84.1,267.8 L84.8,266.9 L85.5,266.2 L86.2,266.0 L86.9,265.5 L87.6,265.6 L88.3,265.3 L89.0,265.0 L89.7,264.6 L90.4,263.3 L91.1,264.8 L91.8,264.0 L92.5,264.9 L93.2,265.3 L93.9,264.9 L94.6,264.6 L95.3,264.7 L96.0,264.8 L96.7,264.6 L97.4,264.6 L98.1,264.4 L98.8,265.3 L99.5,264.8 L100.2,265.2 L100.9,264.7 L101.6,264.9 L102.3,264.8 L103.0,265.0 L103.7,265.2 L104.4,264.9 L105.1,264.6 L105.8,264.5 L106.5,265.5 L107.2,264.7 L107.9,264.7 L108.6,265.5 L109.3,265.3 L110.0,265.1 L110.7,264.7 L111.4,265.8 L112.1,265.1 L112.8,265.1 L113.5,264.8 L114.2,264.3 L114.9,264.4 L115.6,265.1 L116.3,265.1 L117.0,264.8 L117.7,264.5 L118.4,264.4 L119.1,264.8 L119.8,264.4 L120.5,265.3 L121.2,265.4 L121.9,266.1 L122.6,265.3 L123.3,264.8 L124.0,264.7 L124.7,263.6 L125.4,264.8 L126.1,265.0 L126.8,265.4 L127.5,265.3 L128.2,265.3 L128.9,265.2 L129.6,265.3 L130.3,265.7 L131.0,264.7 L131.7,264.9 L132.4,264.6 L133.1,265.8 L133.8,265.7 L134.5,265.5 L135.2,264.7 L135.9,265.3 L136.6,265.2 L137.3,265.3 L138.0,265.3 L138.7,265.6 L139.4,265.3 L140.1,265.8 L140.8,265.6 L141.5,265.4 L142.2,265.5 L142.9,265.4 L143.6,265.9 L144.3,265.5 L145.0,265.7 L145.7,265.4 L146.4,265.0 L147.1,266.0 L147.8,265.2 L148.5,265.9 L149.2,265.8 L149.9,264.9 L150.6,265.2 L151.3,265.4 L152.0,265.3 L152.7,265.1 L153.4,265.9 L154.1,265.5 L154.8,265.7 L155.5,265.4 L156.2,265.7 L156.9,265.3 L157.6,265.5 L158.3,265.8 L159.0,265.6 L159.7,265.4 L160.4,265.1 L161.1,265.6 L161.8,265.7 L162.5,265.4 L163.2,265.2 L163.9,265.7 L164.6,266.5 L165.3,265.4 L166.0,265.6 L166.7,265.6 L167.4,264.4 L168.1,265.5 L168.8,265.2 L169.5,266.0 L170.2,265.3 L170.9,265.1 L171.6,265.3 L172.3,265.4 L173.0,265.1 L173.7,265.3 L174.4,264.8 L175.1,265.2 L175.8,265.6 L176.5,266.1 L177.2,265.6 L177.9,265.4 L178.6,265.7 L179.3,265.6 L180.0,265.9 L180.7,265.6 L181.4,265.1 L182.1,265.2 L182.8,265.1 L183.5,265.1 L184.2,265.0 L184.9,264.5 L185.6,263.9 L186.3,264.5 L187.0,263.8 L187.7,264.6 L188.4,264.5 L189.1,263.8 L189.8,264.6 L190.5,264.6 L191.2,264.3 L191.9,264.8 L192.6,264.8 L193.3,263.5 L194.0,264.3 L194.7,264.0 L195.4,263.9 L196.1,264.0 L196.8,263.2 L197.5,263.2 L198.2,263.0 L198.9,262.9 L199.6,263.0 L200.3,262.4 L201.0,262.4 L201.7,262.9 L202.4,262.5 L203.1,262.6 L203.8,261.5 L204.5,261.8 L205.2,261.8 L205.9,261.9 L206.6,261.5 L207.3,262.0 L208.0,261.4 L208.7,261.3 L209.4,261.1 L210.1,261.2 L210.8,260.6 L211.5,261.1 L212.2,260.6 L212.9,260.3 L213.6,260.1 L214.3,260.1 L215.0,260.1 L215.7,259.9 L216.4,259.5 L217.1,259.5 L217.8,259.0 L218.5,259.3 L219.2,258.6 L219.9,257.7 L220.6,258.9 L221.3,258.3 L222.0,257.6 L222.7,257.9 L223.4,257.4 L224.1,258.5 L224.8,257.7 L225.5,256.8 L226.2,257.5 L226.9,257.0 L227.6,257.8 L228.3,256.5 L229.0,255.9 L229.7,256.7 L230.4,256.5 L231.1,256.4 L231.8,255.6 L232.5,256.6 L233.2,257.0 L233.9,255.4 L234.6,256.5 L235.3,255.7 L236.0,257.5 L236.7,255.5 L237.4,254.1 L238.1,253.8 L238.8,251.3 L239.5,247.0 L240.2,246.1 L240.9,247.1 L241.6,249.8 L242.3,255.1 L243.0,254.6 L243.7,255.5 L244.4,257.0 L245.1,256.0 L245.8,256.1 L246.5,256.3 L247.2,255.7 L247.9,255.4 L248.6,255.5 L249.3,253.9 L250.0,254.5 L250.7,255.0 L251.4,254.4 L252.1,255.8 L252.8,254.9 L253.5,256.0 L254.2,254.9 L254.9,253.8 L255.6,252.0 L256.3,252.2 L257.0,250.7 L257.7,251.2 L258.4,250.1 L259.1,249.0 L259.8,249.7 L260.5,249.0 L261.2,247.5 L261.9,248.3 L262.6,246.8 L263.3,246.4 L264.0,246.4 L264.7,245.6 L265.4,245.8 L266.1,246.2 L266.8,248.0 L267.5,248.3 L268.2,246.8 L268.9,247.3 L269.6,244.6 L270.3,243.1 L271.0,241.5 L271.7,239.1 L272.4,238.9 L273.1,235.5 L273.8,232.3 L274.5,231.9 L275.2,228.4 L275.9,226.5 L276.6,222.9 L277.3,225.0 L278.0,224.7 L278.7,225.7 L279.4,227.7 L280.1,230.3 L280.8,230.8 L281.5,232.4 L282.2,231.1 L282.9,231.3 L283.6,232.1 L284.3,231.4 L285.0,229.7 L285.7,229.7 L286.4,227.4 L287.1,225.0 L287.8,224.3 L288.5,222.9 L289.2,222.6 L289.9,224.8 L290.6,229.6 L291.3,230.0 L292.0,233.7 L292.7,235.6 L293.4,237.0 L294.1,236.9 L294.8,238.7 L295.5,240.1 L296.2,241.2 L296.9,240.5 L297.6,239.0 L298.3,236.6 L299.0,232.5 L299.7,229.9 L300.4,228.2 L301.1,227.8 L301.8,226.9 L302.5,226.6 L303.2,225.3 L303.9,225.4 L304.6,224.9 L305.3,224.1 L306.0,224.3 L306.7,223.7 L307.4,223.1 L308.1,223.0 L308.8,222.0 L309.5,222.4 L310.2,222.7 L310.9,223.3 L311.6,224.3 L312.3,223.7 L313.0,220.8 L313.7,214.7 L314.4,210.3 L315.1,214.9 L315.8,224.0 L316.5,234.6 L317.2,247.6 L317.9,251.7 L318.6,252.6 L319.3,255.0 L320.0,254.6 L320.7,255.2 L321.4,255.6 L322.1,256.7 L322.8,256.9 L323.5,258.2 L324.2,258.2 L324.9,258.7 L325.6,260.1 L326.3,260.1 L327.0,259.7 L327.7,259.6 L328.4,259.6 L329.1,259.2 L329.8,260.1 L330.5,259.8 L331.2,259.7 L331.9,259.7 L332.6,259.9 L333.3,259.7 L334.0,259.8 L334.7,259.0 L335.4,259.7 L336.1,260.3 L336.8,258.8 L337.5,258.4 L338.2,258.1 L338.9,257.3 L339.6,256.2 L340.3,254.2 L341.0,253.7 L341.7,250.3 L342.4,246.9 L343.1,244.0 L343.8,241.4 L344.5,241.3 L345.2,242.1 L345.9,241.0 L346.6,240.9 L347.3,240.2 L348.0,240.2 L348.7,240.0 L349.4,240.2 L350.1,239.9 L350.8,240.1 L351.5,240.2 L352.2,239.8 L352.9,239.5 L353.6,239.4 L354.3,240.0 L355.0,239.6 L355.7,239.7 L356.4,239.5 L357.1,238.8 L357.8,239.1 L358.5,238.2 L359.2,240.1 L359.9,240.3 L360.6,240.5 L361.3,240.6 L362.0,241.4 L362.7,240.1 L363.4,239.7 L364.1,239.1 L364.8,237.6 L365.5,236.3 L366.2,236.1 L366.9,235.0 L367.6,235.3 L368.3,234.9 L369.0,234.6 L369.7,234.9 L370.4,234.1 L371.1,235.0 L371.8,233.1 L372.5,232.6 L373.2,229.8 L373.9,229.5 L374.6,228.7 L375.3,229.0 L376.0,230.1 L376.7,231.1 L377.4,231.1 L378.1,232.8 L378.8,233.0 L379.5,234.6 L380.2,235.7 L380.9,236.4 L381.6,235.4 L382.3,236.6 L383.0,236.0 L383.7,235.3 L384.4,234.7 L385.1,234.1 L385.8,233.9 L386.5,234.2 L387.2,233.4 L387.9,233.0 L388.6,233.4 L389.3,234.9 L390.0,235.1 L390.7,236.1 L391.4,238.0 L392.1,238.6 L392.8,239.5 L393.5,240.4 L394.2,241.1 L394.9,242.3 L395.6,243.3 L396.3,243.7 L397.0,243.8 L397.7,243.4 L398.4,242.6 L399.1,242.0 L399.8,241.1 L400.5,240.6 L401.2,241.7 L401.9,242.6 L402.6,244.0 L403.3,245.6 L404.0,246.6 L404.7,247.7 L405.4,248.9 L406.1,249.6 L406.8,249.8 L407.5,250.8 L408.2,251.2 L408.9,251.7 L409.6,252.9 L410.3,254.5 L411.0,254.3 L411.7,255.8 L412.4,256.6 L413.1,257.2 L413.8,256.8 L414.5,258.5 L415.2,258.2 L415.9,258.5 L416.6,258.9 L417.3,259.7 L418.0,259.9 L418.7,260.1 L419.4,261.1 L420.1,260.6 L420.8,260.8 L421.5,261.9 L422.2,262.2 L422.9,262.7 L423.6,262.1 L424.3,263.3 L425.0,263.3 L425.7,264.1 L426.4,263.1 L427.1,263.9 L427.8,263.9 L428.5,263.6 L429.2,264.1 L429.9,264.9 L430.6,264.4 L431.3,264.4 L432.0,265.1 L432.7,265.3 L433.4,265.4 L434.1,264.7 L434.8,265.1 L435.5,265.6 L436.2,265.0 L436.9,265.0 L437.6,265.8 L438.3,266.2 L439.0,265.2 L439.7,264.8 L440.4,265.4 L441.1,265.8 L441.8,266.3 L442.5,266.9 L443.2,266.8 L443.9,266.8 L444.6,267.3 L445.3,267.1 L446.0,267.6 L446.7,267.5 L447.4,268.9 L448.1,268.3 L448.8,267.7 L449.5,267.7 L450.2,268.0 L450.9,267.5 L451.6,268.0 L452.3,268.0 L453.0,268.7 L453.7,268.3 L454.4,268.2 L455.1,268.0 L455.8,268.1 L456.5,268.6 L457.2,268.6 L457.9,269.2 L458.6,268.5 L459.3,269.3 L460.0,269.0 L460.7,268.9 L461.4,268.2 L462.1,268.5 L462.8,269.3 L463.5,269.6 L464.2,269.2 L464.9,269.4 L465.6,269.0 L466.3,269.0 L467.0,268.9 L467.7,269.6 L468.4,269.4 L469.1,269.2 L469.8,269.1 L470.5,269.5 L471.2,269.4 L471.9,269.0 L472.6,270.0 L473.3,269.4 L474.0,269.3 L474.7,269.9 L475.4,269.7 L476.1,269.3 L476.8,269.5 L477.5,268.9 L478.2,269.0 L478.9,268.4 L479.6,269.8 L480.3,268.5 L481.0,269.5 L481.7,268.9 L482.4,268.8 L483.1,269.1 L483.8,269.3 L484.5,269.4 L485.2,269.9 L485.9,269.3 L486.6,269.5 L487.3,268.8 L488.0,269.3 L488.7,269.1 L489.4,268.8 L490.1,268.9 L490.8,268.9 L491.5,268.8 L492.2,268.2 L492.9,266.7 L493.6,265.1 L494.3,263.8 L495.0,258.8 L495.7,254.6 L496.4,253.1 L497.1,250.1 L497.8,249.7 L498.5,249.3 L499.2,247.5 L499.9,248.6 L500.6,246.2 L501.3,247.7 L502.0,247.8 L502.7,247.6 L503.4,247.3 L504.1,247.7 L504.8,247.5 L505.5,248.4 L506.2,247.9 L506.9,248.4 L507.6,249.2 L508.3,248.7 L509.0,249.3 L509.7,249.8 L510.4,249.6 L511.1,251.0 L511.8,251.1 L512.5,250.7 L513.2,251.7 L513.9,251.9 L514.6,252.4 L515.3,253.1 L516.0,253.2 L516.7,254.3 L517.4,254.0 L518.1,255.0 L518.8,255.0 L519.5,255.7 L520.2,255.5 L520.9,255.8 L521.6,255.9 L522.3,256.9 L523.0,257.4 L523.7,258.2 L524.4,258.2 L525.1,258.1 L525.8,258.3 L526.5,258.8 L527.2,259.0 L527.9,259.9 L528.6,260.0 L529.3,259.6 L530.0,260.0 L530.7,261.1 L531.4,261.0 L532.1,261.0 L532.8,261.9 L533.5,261.6 L534.2,262.0 L534.9,262.2 L535.6,261.9 L536.3,263.4 L537.0,262.9 L537.7,263.4 L538.4,263.7 L539.1,264.5 L539.8,264.5 L540.5,264.8 L541.2,264.3 L541.9,265.2 L542.6,264.8 L543.3,265.7 L544.0,265.8 L544.7,265.8 L545.4,266.8 L546.1,266.3 L546.8,266.4 L547.5,266.3 L548.2,266.3 L548.9,266.9 L549.6,267.0 L550.3,266.1 L551.0,267.1 L551.7,267.0 L552.4,267.3 L553.1,267.2 L553.8,266.6 L554.5,266.7 L555.2,268.0 L555.9,267.4 L556.6,266.8 L557.3,267.6 L558.0,267.4 L558.7,266.9 L559.4,266.8 L560.1,267.2 L560.8,268.1 L561.5,268.0 L562.2,268.0 L562.9,268.3 L563.6,268.5 L564.3,267.5 L565.0,268.3 L565.7,268.2 L566.4,268.1" stroke="#0000ff"/>
<path d="M43.5,325.8 L44.2,325.9 L44.9,325.8 L45.6,325.3 L46.3,325.7 L47.0,326.7 L47.7,325.4 L48.4,325.2 L49.1,325.9 L49.8,326.0 L50.5,326.0 L51.2,325.3 L51.9,326.1 L52.6,325.4 L53.3,325.2 L54.0,325.4 L54.7,325.6 L55.4,325.9 L56.1,325.8 L56.8,325.6 L57.5,325.9 L58.2,325.6 L58.9,325.9 L59.6,324.9 L60.3,324.8 L61.0,325.7 L61.7,324.9 L62.4,325.3 L63.1,325.3 L63.8,325.2 L64.5,325.2 L65.2,325.9 L65.9,324.3 L66.6,325.6 L67.3,326.2 L68.0,325.2 L68.7,325.2 L69.4,325.5 L70.1,325.9 L70.8,324.7 L71.5,325.2 L72.2,325.0 L72.9,325.3 L73.6,325.1 L74.3,325.3 L75.0,324.9 L75.7,325.0 L76.4,324.7 L77.1,324.7 L77.8,324.9 L78.5,324.9 L79.2,324.4 L79.9,325.5 L80.6,324.8 L81.3,324.3 L82.0,325.3 L82.7,324.5 L83.4,325.0 L84.1,324.8 L84.8,324.9 L85.5,324.8 L86.2,324.5 L86.9,324.7 L87.6,325.5 L88.3,323.8 L89.0,324.7 L89.7,324.8 L90.4,324.2 L91.1,324.0 L91.8,325.4 L92.5,324.4 L93.2,325.4 L93.9,324.7 L94.6,324.5 L95.3,324.7 L96.0,324.7 L96.7,324.9 L97.4,324.6 L98.1,324.5 L98.8,324.5 L99.5,324.9 L100.2,324.7 L100.9,324.0 L101.6,324.1 L102.3,324.5 L103.0,324.1 L103.7,324.1 L104.4,323.9 L105.1,324.1 L105.8,324.4 L106.5,324.6 L107.2,324.2 L107.9,325.0 L108.6,324.1 L109.3,325.4 L110.0,324.5 L110.7,324.3 L111.4,323.9 L112.1,323.0 L112.8,324.0 L113.5,324.1 L114.2,324.8 L114.9,323.5 L115.6,324.8 L116.3,323.9 L117.0,324.3 L117.7,323.0 L118.4,324.0 L119.1,323.8 L119.8,324.2 L120.5,323.9 L121.2,323.4 L121.9,324.3 L122.6,324.1 L123.3,324.1 L124.0,324.2 L124.7,324.3 L125.4,323.8 L126.1,323.3 L126.8,323.2 L127.5,324.3 L128.2,324.0 L128.9,323.8 L129.6,323.6 L130.3,323.7 L131.0,323.7 L131.7,323.6 L132.4,323.4 L133.1,324.5 L133.8,323.7 L134.5,323.4 L135.2,323.1 L135.9,323.3 L136.6,323.9 L137.3,323.9 L138.0,323.5 L138.7,323.6 L139.4,323.4 L140.1,323.1 L140.8,324.1 L141.5,323.7 L142.2,324.5 L142.9,323.2 L143.6,323.5 L144.3,323.8 L145.0,323.4 L145.7,322.9 L146.4,323.1 L147.1,323.5 L147.8,323.6 L148.5,323.4 L149.2,323.8 L149.9,323.8 L150.6,323.5 L151.3,323.4 L152.0,323.3 L152.7,323.6 L153.4,323.7 L154.1,323.4 L154.8,323.5 L155.5,323.2 L156.2,322.8 L156.9,322.9 L157.6,323.6 L158.3,323.5 L159.0,323.9 L159.7,323.3 L160.4,323.6 L161.1,323.7 L161.8,323.6 L162.5,322.9 L163.2,323.1 L163.9,323.2 L164.6,322.7 L165.3,323.3 L166.0,323.5 L166.7,322.9 L167.4,323.8 L168.1,322.9 L168.8,322.9 L169.5,322.8 L170.2,322.6 L170.9,323.0 L171.6,322.9 L172.3,323.5 L173.0,323.0 L173.7,323.0 L174.4,322.6 L175.1,322.1 L175.8,322.6 L176.5,322.3 L177.2,323.0 L177.9,322.5 L178.6,323.2 L179.3,322.8 L180.0,322.8 L180.7,322.5 L181.4,322.5 L182.1,322.6 L182.8,322.7 L183.5,322.0 L184.2,322.4 L184.9,323.3 L185.6,322.1 L186.3,322.0 L187.0,321.8 L187.7,321.5 L188.4,322.5 L189.1,322.0 L189.8,322.0 L190.5,322.6 L191.2,322.8 L191.9,321.4 L192.6,322.1 L193.3,321.9 L194.0,321.7 L194.7,321.7 L195.4,321.4 L196.1,322.0 L196.8,321.5 L197.5,321.3 L198.2,321.6 L198.9,321.3 L199.6,321.1 L200.3,320.9 L201.0,321.4 L201.7,320.8 L202.4,320.4 L203.1,320.0 L203.8,320.1 L204.5,319.7 L205.2,320.1 L205.9,320.0 L206.6,319.0 L207.3,319.7 L208.0,319.8 L208.7,319.5 L209.4,318.9 L210.1,319.6 L210.8,318.7 L211.5,318.3 L212.2,318.2 L212.9,318.4 L213.6,318.6 L214.3,318.5 L215.0,317.9 L215.7,317.2 L216.4,317.2 L217.1,316.9 L217.8,317.0 L218.5,316.2 L219.2,316.8 L219.9,316.9 L220.6,316.4 L221.3,316.5 L222.0,315.8 L222.7,315.4 L223.4,315.6 L224.1,316.2 L224.8,315.9 L225.5,315.2 L226.2,315.6 L226.9,314.8 L227.6,315.2 L228.3,314.5 L229.0,313.7 L229.7,313.7 L230.4,312.7 L231.1,312.2 L231.8,311.6 L232.5,311.9 L233.2,311.5 L233.9,311.4 L234.6,311.3 L235.3,312.6 L236.0,312.6 L236.7,312.7 L237.4,313.1 L238.1,312.4 L238.8,310.9 L239.5,308.9 L240.2,308.2 L240.9,307.7 L241.6,306.9 L242.3,307.4 L243.0,306.5 L243.7,307.7 L244.4,307.6 L245.1,308.8 L245.8,308.7 L246.5,309.5 L247.2,309.0 L247.9,309.0 L248.6,309.3 L249.3,309.7 L250.0,309.8 L250.7,310.8 L251.4,311.0 L252.1,310.7 L252.8,310.3 L253.5,310.7 L254.2,309.9 L254.9,309.5 L255.6,307.7 L256.3,306.8 L257.0,305.5 L257.7,304.0 L258.4,303.8 L259.1,303.2 L259.8,303.5 L260.5,303.1 L261.2,302.5 L261.9,302.5 L262.6,303.1 L263.3,301.9 L264.0,301.7 L264.7,301.8 L265.4,301.4 L266.1,301.2 L266.8,301.2 L267.5,301.4 L268.2,299.6 L268.9,300.0 L269.6,299.7 L270.3,299.4 L271.0,299.2 L271.7,299.1 L272.4,299.8 L273.1,299.8 L273.8,300.9 L274.5,301.9 L275.2,302.6 L275.9,302.6 L276.6,302.9 L277.3,302.2 L278.0,301.8 L278.7,301.2 L279.4,300.3 L280.1,300.0 L280.8,299.6 L281.5,299.7 L282.2,299.1 L282.9,298.6 L283.6,298.8 L284.3,298.7 L285.0,297.6 L285.7,298.8 L286.4,298.1 L287.1,298.1 L287.8,298.9 L288.5,298.9 L289.2,299.1 L289.9,300.9 L290.6,300.2 L291.3,301.3 L292.0,302.4 L292.7,302.2 L293.4,303.2 L294.1,303.9 L294.8,305.0 L295.5,303.8 L296.2,304.2 L296.9,304.4 L297.6,304.2 L298.3,303.6 L299.0,304.3 L299.7,304.1 L300.4,304.2 L301.1,304.4 L301.8,304.3 L302.5,304.0 L303.2,303.8 L303.9,303.2 L304.6,303.5 L305.3,303.6 L306.0,303.3 L306.7,303.4 L307.4,302.9 L308.1,303.8 L308.8,303.9 L309.5,302.7 L310.2,302.9 L310.9,302.5 L311.6,302.9 L312.3,302.5 L313.0,302.3 L313.7,302.1 L314.4,302.3 L315.1,301.9 L315.8,302.6 L316.5,302.1 L317.2,302.8 L317.9,302.8 L318.6,303.3 L319.3,303.0 L320.0,303.6 L320.7,303.0 L321.4,303.8 L322.1,303.7 L322.8,304.0 L323.5,304.1 L324.2,304.7 L324.9,303.7 L325.6,304.9 L326.3,304.4 L327.0,305.7 L327.7,304.6 L328.4,305.3 L329.1,305.2 L329.8,306.8 L330.5,305.9 L331.2,306.7 L331.9,306.7 L332.6,306.4 L333.3,307.2 L334.0,307.9 L334.7,307.8 L335.4,308.6 L336.1,308.4 L336.8,308.9 L337.5,309.0 L338.2,309.6 L338.9,310.5 L339.6,310.2 L340.3,310.3 L341.0,310.2 L341.7,310.3 L342.4,311.3 L343.1,310.3 L343.8,310.3 L344.5,310.6 L345.2,310.4 L345.9,311.2 L346.6,309.4 L347.3,310.3 L348.0,310.3 L348.7,309.4 L349.4,309.5 L350.1,309.7 L350.8,310.0 L351.5,308.8 L352.2,308.4 L352.9,309.2 L353.6,309.3 L354.3,308.3 L355.0,307.4 L355.7,308.6 L356.4,307.7 L357.1,308.0 L357.8,307.3 L358.5,306.9 L359.2,306.6 L359.9,307.1 L360.6,306.8 L361.3,305.2 L362.0,305.4 L362.7,306.3 L363.4,305.2 L364.1,304.6 L364.8,304.9 L365.5,304.7 L366.2,304.6 L366.9,304.3 L367.6,304.3 L368.3,304.0 L369.0,304.0 L369.7,303.0 L370.4,302.5 L371.1,301.9 L371.8,301.9 L372.5,301.0 L373.2,300.3 L373.9,300.0 L374.6,299.5 L375.3,299.3 L376.0,298.8 L376.7,299.1 L377.4,298.8 L378.1,298.1 L378.8,297.7 L379.5,297.4 L380.2,295.4 L380.9,294.4 L381.6,296.4 L382.3,298.5 L383.0,297.9 L383.7,295.8 L384.4,296.2 L385.1,298.4 L385.8,302.2 L386.5,302.7 L387.2,303.9 L387.9,304.4 L388.6,303.7 L389.3,303.3 L390.0,301.9 L390.7,301.6 L391.4,300.5 L392.1,301.0 L392.8,300.8 L393.5,301.8 L394.2,302.8 L394.9,303.9 L395.6,305.8 L396.3,307.0 L397.0,309.4 L397.7,311.1 L398.4,311.1 L399.1,311.8 L399.8,312.0 L400.5,311.9 L401.2,312.5 L401.9,313.0 L402.6,312.3 L403.3,312.6 L404.0,312.3 L404.7,313.7 L405.4,314.1 L406.1,313.8 L406.8,315.0 L407.5,315.2 L408.2,314.5 L408.9,314.2 L409.6,313.5 L410.3,313.5 L411.0,312.0 L411.7,312.0 L412.4,312.4 L413.1,311.4 L413.8,311.6 L414.5,311.6 L415.2,311.5 L415.9,312.5 L416.6,313.2 L417.3,313.3 L418.0,314.5 L418.7,315.5 L419.4,316.1 L420.1,315.6 L420.8,316.3 L421.5,316.3 L422.2,317.7 L422.9,317.8 L423.6,318.1 L424.3,317.8 L425.0,317.9 L425.7,318.6 L426.4,318.9 L427.1,318.7 L427.8,319.3 L428.5,319.8 L429.2,319.9 L429.9,319.6 L430.6,319.5 L431.3,320.5 L432.0,320.9 L432.7,321.0 L433.4,321.2 L434.1,321.4 L434.8,322.2 L435.5,322.2 L436.2,322.5 L436.9,322.3 L437.6,322.6 L438.3,323.2 L439.0,322.9 L439.7,323.0 L440.4,323.5 L441.1,324.2 L441.8,323.9 L442.5,324.5 L443.2,324.0 L443.9,324.0 L444.6,323.6 L445.3,324.0 L446.0,324.9 L446.7,324.6 L447.4,324.8 L448.1,324.8 L448.8,324.6 L449.5,324.6 L450.2,324.8 L450.9,325.1 L451.6,325.0 L452.3,325.1 L453.0,325.0 L453.7,324.7 L454.4,325.0 L455.1,324.7 L455.8,325.6 L456.5,324.4 L457.2,325.2 L457.9,326.3 L458.6,325.2 L459.3,325.0 L460.0,325.5 L460.7,326.0 L461.4,325.5 L462.1,325.9 L462.8,325.7 L463.5,325.6 L464.2,327.0 L464.9,325.8 L465.6,325.6 L466.3,325.7 L467.0,326.0 L467.7,326.1 L468.4,326.3 L469.1,326.0 L469.8,325.4 L470.5,326.2 L471.2,325.9 L471.9,325.9 L472.6,325.4 L473.3,325.8 L474.0,325.7 L474.7,326.0 L475.4,325.4 L476.1,326.0 L476.8,326.0 L477.5,325.5 L478.2,325.7 L478.9,325.6 L479.6,326.3 L480.3,325.0 L481.0,325.8 L481.7,325.3 L482.4,325.8 L483.1,326.3 L483.8,325.7 L484.5,326.0 L485.2,325.6 L485.9,326.7 L486.6,326.3 L487.3,326.3 L488.0,325.3 L488.7,325.4 L489.4,326.2 L490.1,325.7 L490.8,325.7 L491.5,325.9 L492.2,325.2 L492.9,326.0 L493.6,324.5 L494.3,321.6 L495.0,318.1 L495.7,317.2 L496.4,315.7 L497.1,315.7 L497.8,315.2 L498.5,314.8 L499.2,314.4 L499.9,314.3 L500.6,312.8 L501.3,314.1 L502.0,313.6 L502.7,313.7 L503.4,313.6 L504.1,313.3 L504.8,313.8 L505.5,314.4 L506.2,314.9 L506.9,314.3 L507.6,314.4 L508.3,315.5 L509.0,314.9 L509.7,316.3 L510.4,315.7 L511.1,315.6 L511.8,316.6 L512.5,317.1 L513.2,316.1 L513.9,317.5 L514.6,316.9 L515.3,317.9 L516.0,317.3 L516.7,317.1 L517.4,318.1 L518.1,318.5 L518.8,319.2 L519.5,319.3 L520.2,319.1 L520.9,318.9 L521.6,319.1 L522.3,319.4 L523.0,319.4 L523.7,319.8 L524.4,319.1 L525.1,320.4 L525.8,320.5 L526.5,321.8 L527.2,321.2 L527.9,320.9 L528.6,321.5 L529.3,321.0 L530.0,321.4 L530.7,321.1 L531.4,322.6 L532.1,322.4 L532.8,321.9 L533.5,322.5 L534.2,323.1 L534.9,323.1 L535.6,323.2 L536.3,322.8 L537.0,323.1 L537.7,323.5 L538.4,324.0 L539.1,323.5 L539.8,323.5 L540.5,324.5 L541.2,323.8 L541.9,324.7 L542.6,324.4 L543.3,324.8 L544.0,325.2 L544.7,324.8 L545.4,324.9 L546.1,324.3 L546.8,324.4 L547.5,325.0 L548.2,325.3 L548.9,325.3 L549.6,325.7 L550.3,324.9 L551.0,324.9 L551.7,325.3 L552.4,324.9 L553.1,324.9 L553.8,324.5 L554.5,325.4 L555.2,324.6 L555.9,325.2 L556.6,324.5 L557.3,325.5 L558.0,324.7 L558.7,325.5 L559.4,324.5 L560.1,325.0 L560.8,325.7 L561.5,325.0 L562.2,325.4 L562.9,325.2 L563.6,324.5 L564.3,325.6 L565.0,325.7 L565.7,325.2 L566.4,325.9" stroke="#ff00ff"/>
<path d="M43.5,382.4 L44.0,382.3 L44.4,382.8 L44.9,382.4 L45.3,383.9 L45.8,381.9 L46.2,383.0 L46.7,383.1 L47.1,381.6 L47.6,381.7 L48.0,382.8 L48.5,382.3 L48.9,382.7 L49.4,383.0 L49.8,382.3 L50.3,381.9 L50.7,381.0 L51.2,382.5 L51.6,381.9 L52.1,382.5 L52.5,382.4 L53.0,381.6 L53.4,383.1 L53.9,382.7 L54.3,382.6 L54.8,381.5 L55.2,381.9 L55.7,381.8 L56.1,381.8 L56.6,381.4 L57.0,382.2 L57.5,382.1 L57.9,382.1 L58.4,381.6 L58.8,382.5 L59.3,381.9 L59.7,380.4 L60.2,381.4 L60.6,381.7 L61.1,382.2 L61.5,381.5 L62.0,381.5 L62.4,381.2 L62.9,381.9 L63.3,381.3 L63.8,381.2 L64.2,381.1 L64.7,381.7 L65.1,381.1 L65.6,380.5 L66.0,381.6 L66.5,380.9 L66.9,381.4 L67.4,381.4 L67.8,381.7 L68.3,381.6 L68.7,380.8 L69.2,380.9 L69.6,380.3 L70.1,381.8 L70.5,381.1 L71.0,381.6 L71.4,380.7 L71.9,379.8 L72.3,381.5 L72.8,380.8 L73.2,380.7 L73.7,380.7 L74.1,380.9 L74.6,380.8 L75.0,379.7 L75.5,381.0 L75.9,380.2 L76.4,380.2 L76.8,381.2 L77.3,380.8 L77.7,380.1 L78.2,379.3 L78.6,380.3 L79.1,380.4 L79.5,380.1 L80.0,379.4 L80.4,379.6 L80.9,379.4 L81.3,380.0 L81.8,380.3 L82.2,380.4 L82.7,379.4 L83.1,379.9 L83.6,380.0 L84.0,379.4 L84.5,379.6 L84.9,380.7 L85.4,379.7 L85.8,380.0 L86.3,379.3 L86.7,379.4 L87.2,378.5 L87.6,379.3 L88.1,379.9 L88.5,380.3 L89.0,379.8 L89.4,379.5 L89.9,379.1 L90.3,378.8 L90.8,378.9 L91.2,379.3 L91.7,378.5 L92.1,379.3 L92.6,378.3 L93.0,377.9 L93.5,378.2 L93.9,377.8 L94.4,377.9 L94.8,379.1 L95.3,378.4 L95.7,378.5 L96.2,378.9 L96.6,378.9 L97.1,378.0 L97.5,378.9 L98.0,378.3 L98.4,378.1 L98.9,378.2 L99.3,377.2 L99.8,377.5 L100.2,377.8 L100.7,378.1 L101.1,377.5 L101.6,377.6 L102.0,378.1 L102.5,378.2 L102.9,377.9 L103.4,378.0 L103.8,377.2 L104.3,377.1 L104.7,377.4 L105.2,377.0 L105.6,376.9 L106.1,377.9 L106.5,376.9 L107.0,376.5 L107.4,377.1 L107.9,377.8 L108.3,376.8 L108.8,377.4 L109.2,376.5 L109.7,376.4 L110.1,376.2 L110.6,376.5 L111.0,377.4 L111.5,375.9 L111.9,377.2 L112.4,375.9 L112.8,376.2 L113.3,376.7 L113.7,376.6 L114.2,376.3 L114.6,375.3 L115.1,376.3 L115.5,375.6 L116.0,377.3 L116.4,375.9 L116.9,376.1 L117.3,375.4 L117.8,375.7 L118.2,375.2 L118.7,376.3 L119.1,375.7 L119.6,376.0 L120.0,375.4 L120.5,375.4 L120.9,376.3 L121.4,375.1 L121.8,374.7 L122.3,375.8 L122.7,375.0 L123.2,375.3 L123.6,375.9 L124.1,375.0 L124.5,375.8 L125.0,375.0 L125.4,376.1 L125.9,376.0 L126.3,375.0 L126.8,375.1 L127.2,374.8 L127.7,375.3 L128.1,375.7 L128.6,374.4 L129.0,375.5 L129.5,374.4 L129.9,374.6 L130.4,374.1 L130.8,376.0 L131.3,374.9 L131.7,375.0 L132.2,374.5 L132.6,375.3 L133.1,373.7 L133.5,374.7 L134.0,375.8 L134.4,374.5 L134.9,374.6 L135.3,374.9 L135.8,374.1 L136.2,374.5 L136.7,374.9 L137.1,374.5 L137.6,374.6 L138.0,374.2 L138.5,374.4 L138.9,374.3 L139.4,374.9 L139.8,374.5 L140.3,374.0 L140.7,372.8 L141.2,374.4 L141.6,374.3 L142.1,373.5 L142.5,372.9 L143.0,373.3 L143.4,374.3 L143.9,373.2 L144.3,373.5 L144.8,373.8 L145.2,374.2 L145.7,373.5 L146.1,373.5 L146.6,373.2 L147.0,374.2 L147.5,373.9 L147.9,373.3 L148.4,372.6 L148.8,372.8 L149.3,373.5 L149.7,372.8 L150.2,373.5 L150.6,373.2 L151.1,373.1 L151.5,373.3 L152.0,373.1 L152.4,372.4 L152.9,372.6 L153.3,373.9 L153.8,372.1 L154.2,372.4 L154.7,373.2 L155.1,372.5 L155.6,372.1 L156.0,371.8 L156.5,372.7 L156.9,372.9 L157.4,373.1 L157.8,372.3 L158.3,372.8 L158.7,371.7 L159.2,372.3 L159.6,371.8 L160.1,372.2 L160.5,372.4 L161.0,372.5 L161.4,371.4 L161.9,372.5 L162.3,371.6 L162.8,371.3 L163.2,371.6 L163.7,370.9 L164.1,371.6 L164.6,371.7 L165.0,371.4 L165.5,371.7 L165.9,371.3 L166.4,371.4 L166.8,370.6 L167.3,371.3 L167.7,370.8 L168.2,371.0 L168.6,371.1 L169.1,371.2 L169.5,370.2 L170.0,370.2 L170.4,370.8 L170.9,371.2 L171.3,371.1 L171.8,371.3 L172.2,371.5 L172.7,371.1 L173.1,370.8 L173.6,370.3 L174.0,370.3 L174.5,370.6 L174.9,370.9 L175.4,370.9 L175.8,370.8 L176.3,370.7 L176.7,371.2 L177.2,371.0 L177.6,371.0 L178.1,371.1 L178.5,370.7 L179.0,370.4 L179.4,371.2 L179.9,371.2 L180.3,371.0 L180.8,370.9 L181.2,372.3 L181.7,370.8 L182.1,371.1 L182.6,371.4 L183.0,370.7 L183.5,371.4 L183.9,372.2 L184.4,371.8 L184.8,371.7 L185.3,371.7 L185.7,371.4 L186.2,371.9 L186.6,371.3 L187.1,371.2 L187.5,371.4 L188.0,371.7 L188.4,371.4 L188.9,371.4 L189.3,370.0 L189.8,371.4 L190.2,371.8 L190.7,371.2 L191.1,370.2 L191.6,369.7 L192.0,370.1 L192.5,369.2 L192.9,369.8 L193.4,369.0 L193.8,369.5 L194.3,369.5 L194.7,367.5 L195.2,368.4 L195.6,367.7 L196.1,367.1 L196.5,367.3 L197.0,367.2 L197.4,367.6 L197.9,366.1 L198.3,367.2 L198.8,367.4 L199.2,366.5 L199.7,366.2 L200.1,365.6 L200.6,364.8 L201.0,365.4 L201.5,365.0 L201.9,364.9 L202.4,365.5 L202.8,364.3 L203.3,363.8 L203.7,364.1 L204.2,362.4 L204.6,362.2 L205.1,362.3 L205.5,361.9 L206.0,362.3 L206.4,361.6 L206.9,362.3 L207.3,362.0 L207.8,361.4 L208.2,360.6 L208.7,360.9 L209.1,360.9 L209.6,359.7 L210.0,360.2 L210.5,360.2 L210.9,359.8 L211.4,360.3 L211.8,360.0 L212.3,358.1 L212.7,359.2 L213.2,357.8 L213.6,359.3 L214.1,357.3 L214.5,359.4 L215.0,358.5 L215.4,359.0 L215.9,357.4 L216.3,355.5 L216.8,359.3 L217.2,356.6 L217.7,358.3 L218.1,356.9 L218.6,357.0 L219.0,358.2 L219.5,356.1 L219.9,357.1 L220.4,353.3 L220.8,356.0 L221.3,354.4 L221.7,354.3 L222.2,354.3 L222.6,354.6 L223.1,356.0 L223.5,351.5 L224.0,353.7 L224.4,352.6 L224.9,354.8 L225.3,352.6 L225.8,353.5 L226.2,352.2 L226.7,353.3 L227.1,353.4 L227.6,351.3 L228.0,351.5 L228.5,349.3 L228.9,351.1 L229.4,351.5 L229.8,349.5 L230.3,351.5 L230.7,347.4 L231.2,347.7 L231.6,348.3 L232.1,349.6 L232.5,350.3 L233.0,350.4 L233.4,350.6 L233.9,352.2 L234.3,351.8 L234.8,351.9 L235.2,352.8 L235.7,357.0 L236.1,350.3 L236.6,351.4 L237.0,352.5 L237.5,350.7 L237.9,348.6 L238.4,349.2 L238.8,349.8 L239.3,349.8 L239.7,346.7 L240.2,348.4 L240.6,347.4 L241.1,348.1 L241.5,348.1 L242.0,345.7 L242.4,344.1 L242.9,346.3 L243.3,347.9 L243.8,346.6 L244.2,346.6 L244.7,350.2 L245.1,346.7 L245.6,349.8 L246.0,348.3 L246.5,349.0 L246.9,349.0 L247.4,350.8 L247.8,347.6 L248.3,348.0 L248.7,346.6 L249.2,349.2 L249.6,347.9 L250.1,349.0 L250.5,347.4 L251.0,348.8 L251.4,351.2 L251.9,350.3 L252.3,352.0 L252.8,352.4 L253.2,351.5 L253.7,349.7 L254.1,351.9 L254.6,349.7 L255.0,349.7 L255.5,345.3 L255.9,345.1 L256.4,344.0 L256.8,345.2 L257.3,347.6 L257.7,347.3 L258.2,347.0 L258.6,347.7 L259.1,348.9 L259.5,348.0 L260.0,349.0 L260.4,348.6 L260.9,345.6 L261.3,347.8 L261.8,349.7 L262.2,347.3 L262.7,347.4 L263.1,346.9 L263.6,346.8 L264.0,347.5 L264.5,346.4 L264.9,345.7 L265.4,344.3 L265.8,345.6 L266.3,344.6 L266.7,344.5 L267.2,345.9 L267.6,345.7 L268.1,344.0 L268.5,345.5 L269.0,345.1 L269.4,344.2 L269.9,344.9 L270.3,343.3 L270.8,343.4 L271.2,343.1 L271.7,343.2 L272.1,344.2 L272.6,342.7 L273.0,342.6 L273.5,342.5 L273.9,342.9 L274.4,342.4 L274.8,342.9 L275.3,341.7 L275.7,341.3 L276.2,341.7 L276.6,342.0 L277.1,341.5 L277.5,342.3 L278.0,343.3 L278.4,342.0 L278.9,342.6 L279.3,343.5 L279.8,342.5 L280.2,342.6 L280.7,342.6 L281.1,343.7 L281.6,344.0 L282.0,343.8 L282.5,344.1 L282.9,345.0 L283.4,345.0 L283.8,343.8 L284.3,344.7 L284.7,344.9 L285.2,345.4 L285.6,344.9 L286.1,344.7 L286.5,344.8 L287.0,344.1 L287.4,345.2 L287.9,344.9 L288.3,345.5 L288.8,344.6 L289.2,345.0 L289.7,344.7 L290.1,344.7 L290.6,345.8 L291.0,345.1 L291.5,345.7 L291.9,344.9 L292.4,345.6 L292.8,344.7 L293.3,345.5 L293.7,345.7 L294.2,346.6 L294.6,346.6 L295.1,346.7 L295.5,347.6 L296.0,347.5 L296.4,348.0 L296.9,348.5 L297.3,348.3 L297.8,348.5 L298.2,349.1 L298.7,348.9 L299.1,349.7 L299.6,350.3 L300.0,350.3 L300.5,349.9 L300.9,349.6 L301.4,350.5 L301.8,350.6 L302.3,351.5 L302.7,350.9 L303.2,351.2 L303.6,351.9 L304.1,351.4 L304.5,351.8 L305.0,352.9 L305.4,353.0 L305.9,352.7 L306.3,352.7 L306.8,352.2 L307.2,353.1 L307.7,353.0 L308.1,353.2 L308.6,353.0 L309.0,353.4 L309.5,353.4 L309.9,353.7 L310.4,354.4 L310.8,354.0 L311.3,353.1 L311.7,353.5 L312.2,353.3 L312.6,353.8 L313.1,354.6 L313.5,354.6 L314.0,354.2 L314.4,354.7 L314.9,354.3 L315.3,354.1 L315.8,354.2 L316.2,354.6 L316.7,355.9 L317.1,354.6 L317.6,356.1 L318.0,356.3 L318.5,355.7 L318.9,355.9 L319.4,355.8 L319.8,356.3 L320.3,356.9 L320.7,356.8 L321.2,357.5 L321.6,357.9 L322.1,357.7 L322.5,358.0 L323.0,358.1 L323.4,358.6 L323.9,358.1 L324.3,359.2 L324.8,359.4 L325.2,359.1 L325.7,360.9 L326.1,359.6 L326.6,360.0 L327.0,360.8 L327.5,360.0 L327.9,360.8 L328.4,360.7 L328.8,361.2 L329.3,361.8 L329.7,362.2 L330.2,362.8 L330.6,362.8 L331.1,363.2 L331.5,363.1 L332.0,362.7 L332.4,363.7 L332.9,363.1 L333.3,363.2 L333.8,364.4 L334.2,364.2 L334.7,364.1 L335.1,364.6 L335.6,364.8 L336.0,363.8 L336.5,364.6 L336.9,364.3 L337.4,365.1 L337.8,364.8 L338.3,366.0 L338.7,365.7 L339.2,365.2 L339.6,365.7 L340.1,365.3 L340.5,366.0 L341.0,366.4 L341.4,366.3 L341.9,365.3 L342.3,366.2 L342.8,366.7 L343.2,366.7 L343.7,367.2 L344.1,366.0 L344.6,367.0 L345.0,366.4 L345.5,366.9 L345.9,367.0 L346.4,367.1 L346.8,366.5 L347.3,366.9 L347.7,366.2 L348.2,366.0 L348.6,367.0 L349.1,366.7 L349.5,365.9 L350.0,366.2 L350.4,366.6 L350.9,367.3 L351.3,367.1 L351.8,366.9 L352.2,365.6 L352.7,366.4 L353.1,366.6 L353.6,366.5 L354.0,366.5 L354.5,366.1 L354.9,367.1 L355.4,366.9 L355.8,366.0 L356.3,365.5 L356.7,367.0 L357.2,365.6 L357.6,366.5 L358.1,366.8 L358.5,365.3 L359.0,365.8 L359.4,365.5 L359.9,365.8 L360.3,365.7 L360.8,366.4 L361.2,365.7 L361.7,365.3 L362.1,365.8 L362.6,365.0 L363.0,364.8 L363.5,366.0 L363.9,364.4 L364.4,364.4 L364.8,364.6 L365.3,363.9 L365.7,363.3 L366.2,364.7 L366.6,363.7 L367.1,363.7 L367.5,363.6 L368.0,363.2 L368.4,363.0 L368.9,363.5 L369.3,364.4 L369.8,363.5 L370.2,363.3 L370.7,362.1 L371.1,362.7 L371.6,362.0 L372.0,362.8 L372.5,362.2 L372.9,362.2 L373.4,362.0 L373.8,361.7 L374.3,361.1 L374.7,362.0 L375.2,360.9 L375.6,360.9 L376.1,361.3 L376.5,361.0 L377.0,361.4 L377.4,361.7 L377.9,361.3 L378.3,361.2 L378.8,361.1 L379.2,361.4 L379.7,360.1 L380.1,361.2 L380.6,360.5 L381.0,360.4 L381.5,361.0 L381.9,360.8 L382.4,361.4 L382.8,361.7 L383.3,360.1 L383.7,361.3 L384.2,362.4 L384.6,361.9 L385.1,362.3 L385.5,361.8 L386.0,361.2 L386.4,361.5 L386.9,362.5 L387.3,362.8 L387.8,362.1 L388.2,362.5 L388.7,362.9 L389.1,362.1 L389.6,362.9 L390.0,364.1 L390.5,364.5 L390.9,363.5 L391.4,364.6 L391.8,363.6 L392.3,363.6 L392.7,363.1 L393.2,364.8 L393.6,364.4 L394.1,365.9 L394.5,365.1 L395.0,365.3 L395.4,364.5 L395.9,366.4 L396.3,365.7 L396.8,366.0 L397.2,365.2 L397.7,367.1 L398.1,367.3 L398.6,366.8 L399.0,367.3 L399.5,367.7 L399.9,368.2 L400.4,368.0 L400.8,369.0 L401.3,368.2 L401.7,368.2 L402.2,368.4 L402.6,367.6 L403.1,368.5 L403.5,369.6 L404.0,369.3 L404.4,368.8 L404.9,369.5 L405.3,368.4 L405.8,369.3 L406.2,369.8 L406.7,370.0 L407.1,369.3 L407.6,370.2 L408.0,370.8 L408.5,369.7 L408.9,370.3 L409.4,369.2 L409.8,369.1 L410.3,370.4 L410.7,370.2 L411.2,370.3 L411.6,370.0 L412.1,370.2 L412.5,370.8 L413.0,371.3 L413.4,370.4 L413.9,369.7 L414.3,371.2 L414.8,370.9 L415.2,371.0 L415.7,370.8 L416.1,371.9 L416.6,370.8 L417.0,371.1 L417.5,370.0 L417.9,370.7 L418.4,370.6 L418.8,371.0 L419.3,371.3 L419.7,370.8 L420.2,372.0 L420.6,370.7 L421.1,371.0 L421.5,371.4 L422.0,370.7 L422.4,371.7 L422.9,371.8 L423.3,371.4 L423.8,372.5 L424.2,371.7 L424.7,371.8 L425.1,371.2 L425.6,370.9 L426.0,371.5 L426.5,371.7 L426.9,371.7 L427.4,372.3 L427.8,370.8 L428.3,371.5 L428.7,371.2 L429.2,372.8 L429.6,371.9 L430.1,371.9 L430.5,371.7 L431.0,372.7 L431.4,372.1 L431.9,372.5 L432.3,371.4 L432.8,373.1 L433.2,372.7 L433.7,372.8 L434.1,373.2 L434.6,372.6 L435.0,372.6 L435.5,373.1 L435.9,373.0 L436.4,372.7 L436.8,372.9 L437.3,372.7 L437.7,373.4 L438.2,373.5 L438.6,373.1 L439.1,374.1 L439.5,372.5 L440.0,373.2 L440.4,374.2 L440.9,373.2 L441.3,372.7 L441.8,374.3 L442.2,373.9 L442.7,373.1 L443.1,374.1 L443.6,373.3 L444.0,373.2 L444.5,373.9 L444.9,373.8 L445.4,373.6 L445.8,374.0 L446.3,373.7 L446.7,374.4 L447.2,374.4 L447.6,374.9 L448.1,374.3 L448.5,374.0 L449.0,374.0 L449.4,374.7 L449.9,375.6 L450.3,375.4 L450.8,374.7 L451.2,375.6 L451.7,374.6 L452.1,375.8 L452.6,375.2 L453.0,375.8 L453.5,375.8 L453.9,375.5 L454.4,375.8 L454.8,375.2 L455.3,375.8 L455.7,376.5 L456.2,378.1 L456.6,376.4 L457.1,376.2 L457.5,375.7 L458.0,376.9 L458.4,375.6 L458.9,376.1 L459.3,376.8 L459.8,376.1 L460.2,377.5 L460.7,377.4 L461.1,376.6 L461.6,376.7 L462.0,376.4 L462.5,376.5 L462.9,377.5 L463.4,377.7 L463.8,377.6 L464.3,377.7 L464.7,377.4 L465.2,377.9 L465.6,377.1 L466.1,378.0 L466.5,378.8 L467.0,378.8 L467.4,378.1 L467.9,378.2 L468.3,379.2 L468.8,379.5 L469.2,378.0 L469.7,378.6 L470.1,379.1 L470.6,379.7 L471.0,378.8 L471.5,379.6 L471.9,379.3 L472.4,380.7 L472.8,379.8 L473.3,379.6 L473.7,379.6 L474.2,380.4 L474.6,380.3 L475.1,379.5 L475.5,380.2 L476.0,379.5 L476.4,379.9 L476.9,379.7 L477.3,379.7 L477.8,380.1 L478.2,380.0 L478.7,380.8 L479.1,380.9 L479.6,380.4 L480.0,380.0 L480.5,381.0 L480.9,379.6 L481.4,379.6 L481.8,380.9 L482.3,380.9 L482.7,381.0 L483.2,380.4 L483.6,379.9 L484.1,380.3 L484.5,380.8 L485.0,380.1 L485.4,380.1 L485.9,379.7 L486.3,379.8 L486.8,380.8 L487.2,380.5 L487.7,379.7 L488.1,379.7 L488.6,379.9 L489.0,380.4 L489.5,379.5 L489.9,379.9 L490.4,378.8 L490.8,379.2 L491.3,380.0 L491.7,380.1 L492.2,379.0 L492.6,379.1 L493.1,379.7 L493.5,377.5 L494.0,373.9 L494.4,370.1 L494.9,365.6 L495.3,362.7 L495.8,360.1 L496.2,357.1 L496.7,355.1 L497.1,353.2 L497.6,350.8 L498.0,349.7 L498.5,349.7 L498.9,347.6 L499.4,348.1 L499.8,347.2 L500.3,346.6 L500.7,346.8 L501.2,346.9 L501.6,347.3 L502.1,346.6 L502.5,346.8 L503.0,347.0 L503.4,348.2 L503.9,348.0 L504.3,347.2 L504.8,347.7 L505.2,347.8 L505.7,348.4 L506.1,348.7 L506.6,350.0 L507.0,348.2 L507.5,350.0 L507.9,350.0 L508.4,349.8 L508.8,350.5 L509.3,350.7 L509.7,351.4 L510.2,352.3 L510.6,351.4 L511.1,353.3 L511.5,352.9 L512.0,354.3 L512.4,354.2 L512.9,355.1 L513.3,355.2 L513.8,355.9 L514.2,355.8 L514.7,355.7 L515.1,356.9 L515.6,357.3 L516.0,358.4 L516.5,356.8 L516.9,358.1 L517.4,359.2 L517.8,358.4 L518.3,359.3 L518.7,360.9 L519.2,361.0 L519.6,360.3 L520.1,361.9 L520.5,362.2 L521.0,362.4 L521.4,362.6 L521.9,363.0 L522.3,362.8 L522.8,363.4 L523.2,364.4 L523.7,364.5 L524.1,365.8 L524.6,365.1 L525.0,364.4 L525.5,365.9 L525.9,366.5 L526.4,366.9 L526.8,367.1 L527.3,367.1 L527.7,368.6 L528.2,367.9 L528.6,368.9 L529.1,368.8 L529.5,368.7 L530.0,370.4 L530.4,368.8 L530.9,370.0 L531.3,371.0 L531.8,371.0 L532.2,371.9 L532.7,371.8 L533.1,372.0 L533.6,373.6 L534.0,372.7 L534.5,373.0 L534.9,372.8 L535.4,373.3 L535.8,374.2 L536.3,374.4 L536.7,374.3 L537.2,374.2 L537.6,375.0 L538.1,374.0 L538.5,374.8 L539.0,375.0 L539.4,374.8 L539.9,375.4 L540.3,375.1 L540.8,375.1 L541.2,376.5 L541.7,376.1 L542.1,376.4 L542.6,375.9 L543.0,376.5 L543.5,376.5 L543.9,376.8 L544.4,377.4 L544.8,376.2 L545.3,376.5 L545.7,376.4 L546.2,374.8 L546.6,375.9 L547.1,376.7 L547.5,377.1 L548.0,376.6 L548.4,377.5 L548.9,377.6 L549.3,376.9 L549.8,377.9 L550.2,378.1 L550.7,377.6 L551.1,376.9 L551.6,378.2 L552.0,377.5 L552.5,377.5 L552.9,377.8 L553.4,377.6 L553.8,378.4 L554.3,378.4 L554.7,378.7 L555.2,378.4 L555.6,377.8 L556.1,378.2 L556.5,378.8 L557.0,378.3 L557.4,380.0 L557.9,378.5 L558.3,378.4 L558.8,379.3 L559.2,379.2 L559.7,378.9 L560.1,378.9 L560.6,379.3 L561.0,379.6 L561.5,379.6 L561.9,379.1 L562.4,379.6 L562.8,379.9 L563.3,379.9 L563.7,378.0 L564.2,379.2 L564.6,379.3 L565.1,379.7 L565.5,380.0 L566.0,380.4 L566.4,380.3 L566.9,380.0" stroke="#808000"/>
</g>
<rect x="43.25" y="5.7" width="525.0" height="387.6" fill="none" stroke="#000" stroke-width="2.5"/>
<g font-size="20" fill="#000" stroke="#fff" stroke-width="0.2">
<text x="109.0" y="411.6" text-anchor="middle">0.8</text><text x="240.4" y="411.6" text-anchor="middle">0.9</text><text x="371.8" y="411.6" text-anchor="middle">1.0</text><text x="503.2" y="411.6" text-anchor="middle">1.1</text>
<text x="249.5" y="30.6">QDs</text>
<text x="393" y="32.7">WL</text>
<text x="497" y="59.5">Si</text>
<text x="514.3" y="63.4" font-size="13.5">TO</text>
</g>
<path d="M186.2,71.5 C186.2,62.3 189.7,56.3 194.6,56.3 L251.89999999999998,56.3 C258.4,56.3 261.4,50.3 261.4,40.4 C261.4,50.3 264.4,56.3 270.9,56.3 L330.1,56.3 C335.0,56.3 338.5,62.3 338.5,71.5" fill="none" stroke="#2a2a2a" stroke-width="1.15"/><path d="M343.2,71.5 C343.2,62.1 346.7,56.1 351.59999999999997,56.1 L396.5,56.1 C403.0,56.1 406.0,50.1 406.0,40.2 C406.0,50.1 409.0,56.1 415.5,56.1 L462.1,56.1 C467.0,56.1 470.5,62.1 470.5,71.5" fill="none" stroke="#2a2a2a" stroke-width="1.15"/>
<text x="272.5" y="441.4" font-size="26.5" fill="#000" stroke="#fff" stroke-width="0.2" textLength="120.3" lengthAdjust="spacing">Energy, eV</text>
<text transform="translate(22.6,311.6) rotate(-90)" font-size="26.5" fill="#000" stroke="#fff" stroke-width="0.2">PL intensity, arb.un.</text>
<g font-size="20">
<text x="63.80" y="81.6" font-weight="bold" fill="#000000">flat</text>
<text x="97.80" y="81.6" font-weight="normal" fill="#000000">(</text>
<text x="103.80" y="81.6" font-weight="normal" fill="#000000">×</text>
<text x="114.60" y="81.6" font-weight="bold" fill="#000000">3</text>
<text x="124.30" y="81.6" font-weight="normal" fill="#000000">)</text>
<text x="63.50" y="119.2" font-weight="bold" fill="#ff0000">0.5</text>
<text transform="translate(90.30,119.2) scale(1.25,1)" font-weight="normal" fill="#ff0000">μ</text>
<text x="103.60" y="119.2" font-weight="bold" fill="#ff0000">m</text>
<text x="61.80" y="203.5" font-weight="bold" fill="#00c800">0.7</text>
<text transform="translate(89.50,203.5) scale(1.25,1)" font-weight="normal" fill="#00c800">μ</text>
<text x="103.80" y="203.5" font-weight="bold" fill="#00c800">m</text>
<text x="63.00" y="252.0" font-weight="bold" fill="#1818e6">0.8</text>
<text transform="translate(90.30,252.0) scale(1.25,1)" font-weight="normal" fill="#1818e6">μ</text>
<text x="104.70" y="252.0" font-weight="bold" fill="#1818e6">m</text>
<text x="63.70" y="315.6" font-weight="bold" fill="#f816a8">1.0</text>
<text transform="translate(90.90,315.6) scale(1.25,1)" font-weight="normal" fill="#f816a8">μ</text>
<text x="104.70" y="315.6" font-weight="bold" fill="#f816a8">m</text>
<text x="63.90" y="363.6" font-weight="bold" fill="#8b5e0a">2.0</text>
<text transform="translate(92.30,363.6) scale(1.25,1)" font-weight="normal" fill="#8b5e0a">μ</text>
<text x="106.30" y="363.6" font-weight="bold" fill="#8b5e0a">m</text>
<text x="128.20" y="363.6" font-weight="normal" fill="#8b5e0a">(</text>
<text x="133.80" y="363.6" font-weight="normal" fill="#8b5e0a">×</text>
<text x="144.60" y="363.6" font-weight="bold" fill="#8b5e0a">3</text>
<text x="154.30" y="363.6" font-weight="normal" fill="#8b5e0a">)</text>
</g>
</svg>
</body></html>
